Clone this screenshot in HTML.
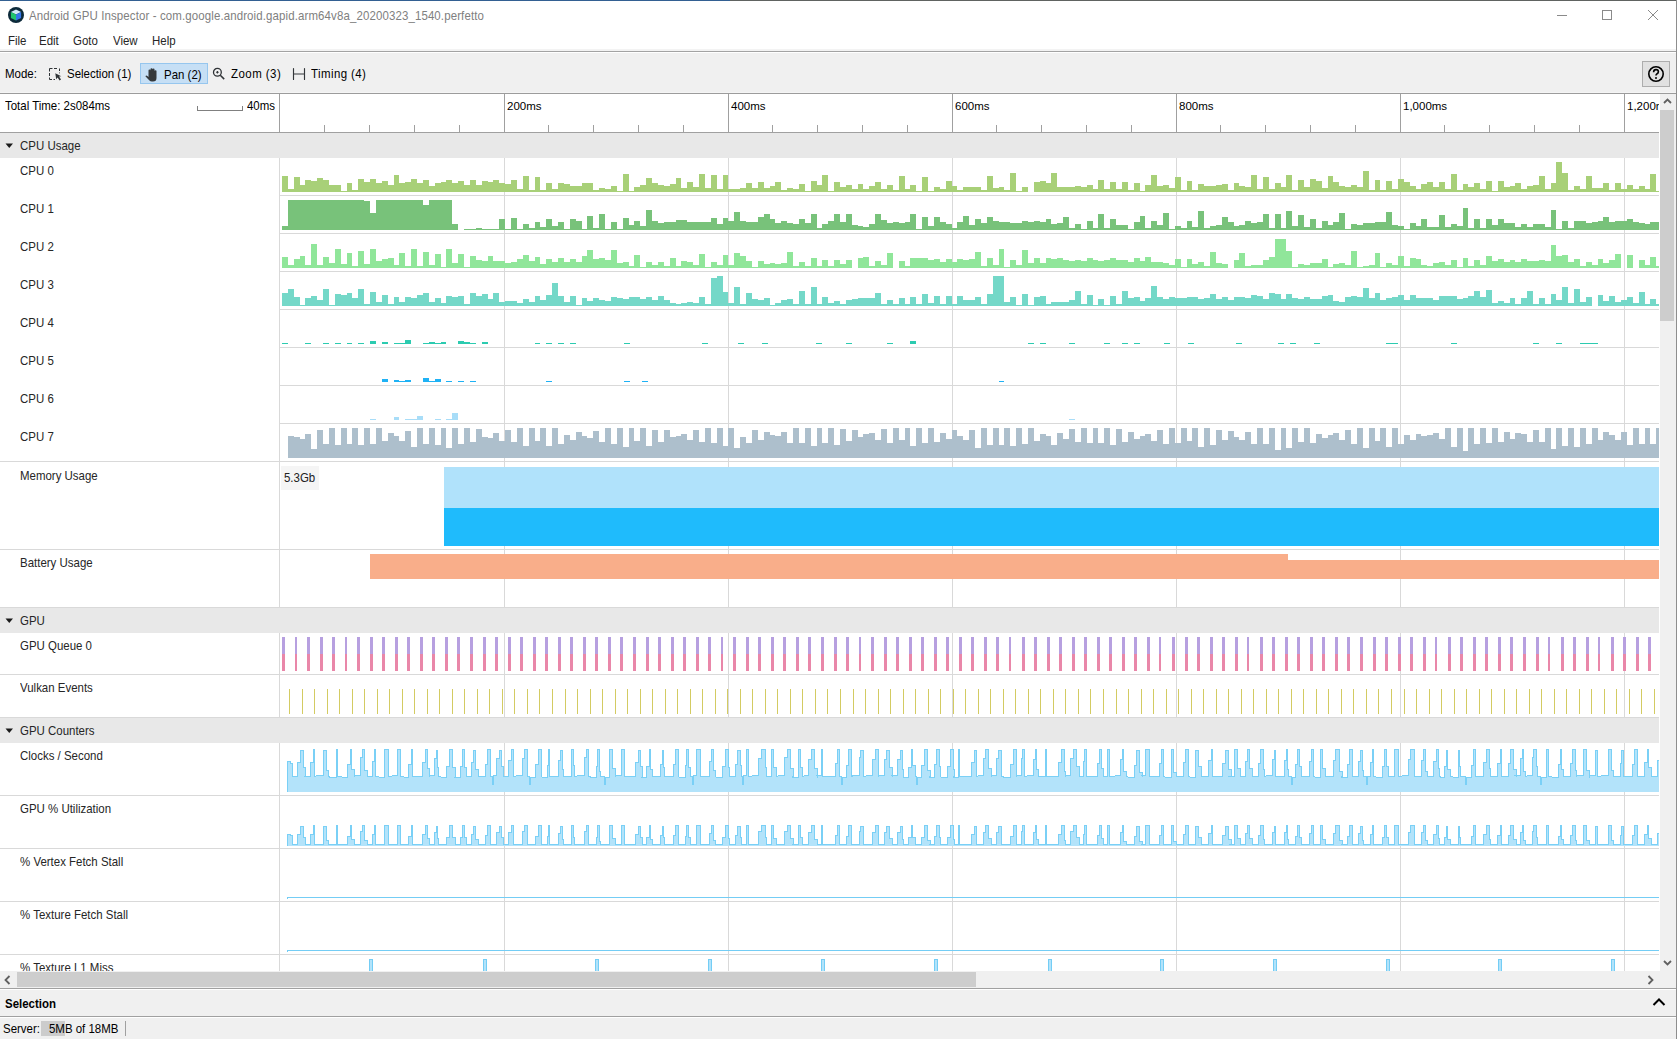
<!DOCTYPE html><html><head><meta charset="utf-8"><style>
html,body{margin:0;padding:0;width:1677px;height:1039px;overflow:hidden;background:#fff}
.t{position:absolute;white-space:pre;font-family:"Liberation Sans",sans-serif;line-height:normal}
</style></head><body><div style="position:absolute;left:0px;top:0px;width:730px;height:1px;background:#336092;"></div><div style="position:absolute;left:730px;top:0px;width:947px;height:1px;background:#606361;"></div><div style="position:absolute;left:1676px;top:0px;width:1px;height:1039px;background:#8e8e8e;"></div><svg style="position:absolute;left:7px;top:6px" width="18" height="18" viewBox="0 0 18 18">
<circle cx="9" cy="9" r="8" fill="#0d2a3a"/>
<path d="M9 3.6 L14.1 6 L9 8.4 L3.9 6 Z" fill="#cfe8f6"/>
<path d="M3.9 6 L9 8.4 L9 14.5 L3.9 12 Z" fill="#1fc56c"/>
<path d="M14.1 6 L9 8.4 L9 14.5 L14.1 12 Z" fill="#3576e8"/>
</svg><div class="t" style="left:29px;top:8.78px;font-size:12.4px;color:#808080;font-weight:400;transform:scaleX(0.925);transform-origin:0 0;letter-spacing:0.13px">Android GPU Inspector - com.google.android.gapid.arm64v8a_20200323_1540.perfetto</div><div style="position:absolute;left:1557px;top:15px;width:10px;height:1px;background:#8a8a8a;"></div><div style="position:absolute;left:1602px;top:10px;width:8px;height:8px;border:1px solid #8a8a8a"></div><svg style="position:absolute;left:1647px;top:9px" width="12" height="12" viewBox="0 0 12 12"><path d="M1 1 L11 11 M11 1 L1 11" stroke="#8a8a8a" stroke-width="1"/></svg><div class="t" style="left:8px;top:33.78px;font-size:12.4px;color:#262626;font-weight:400;transform:scaleX(0.925);transform-origin:0 0;">File</div><div class="t" style="left:39px;top:33.78px;font-size:12.4px;color:#262626;font-weight:400;transform:scaleX(0.925);transform-origin:0 0;">Edit</div><div class="t" style="left:73px;top:33.78px;font-size:12.4px;color:#262626;font-weight:400;transform:scaleX(0.925);transform-origin:0 0;">Goto</div><div class="t" style="left:113px;top:33.78px;font-size:12.4px;color:#262626;font-weight:400;transform:scaleX(0.925);transform-origin:0 0;">View</div><div class="t" style="left:152px;top:33.78px;font-size:12.4px;color:#262626;font-weight:400;transform:scaleX(0.925);transform-origin:0 0;">Help</div><div style="position:absolute;left:0px;top:49px;width:1676px;height:2px;background:#f3f3f3;"></div><div style="position:absolute;left:0px;top:51px;width:1676px;height:1px;background:#a3a3a3;"></div><div style="position:absolute;left:0px;top:52px;width:1676px;height:1px;background:#ffffff;"></div><div style="position:absolute;left:0px;top:53px;width:1676px;height:39px;background:#f0f0f0;"></div><div style="position:absolute;left:0px;top:92px;width:1676px;height:1px;background:#f5f5f5;"></div><div class="t" style="left:5px;top:66.78px;font-size:12.4px;color:#000;font-weight:400;transform:scaleX(0.925);transform-origin:0 0;">Mode:</div><svg style="position:absolute;left:44px;top:64px" width="24" height="20" viewBox="0 0 24 20">
<path d="M5.5 7.5 V4.5 H8.5 M10 4.5 H13 M15.5 4.5 V7 M15.5 8.5 V9.3 M5.5 9 V12 M5.5 13.5 V15.5 H8 M9.5 15.5 H11" fill="none" stroke="#2f3336" stroke-width="1"/>
<path d="M11.3 9.2 L12.2 15.3 L13.6 13.4 L15.6 16.4 L17 15.5 L15.1 12.6 L17.3 12.2 Z" fill="#2f3336"/>
</svg><div class="t" style="left:67px;top:66.78px;font-size:12.4px;color:#000;font-weight:400;transform:scaleX(0.925);transform-origin:0 0;">Selection (1)</div><div style="position:absolute;left:140px;top:63px;width:66px;height:19px;background:#c6dff5;border:1px solid #96c6ee"></div><svg style="position:absolute;left:144px;top:67px" width="16" height="16" viewBox="0 0 16 16">
<path d="M4.5 8.5 V3.5 Q4.5 2.6 5.5 2.6 Q6.5 2.6 6.5 3.5 V7.5 V2 Q6.5 1.2 7.5 1.2 Q8.5 1.2 8.5 2 V7.5 V2.3 Q8.5 1.6 9.5 1.6 Q10.5 1.6 10.5 2.3 V7.5 V4 Q10.5 3.3 11.5 3.3 Q12.5 3.3 12.5 4 V11 Q12.5 14.6 9 14.6 H8 Q6.2 14.6 5.2 13.3 L1.6 9.6 Q1.2 9 1.8 8.7 Q2.6 8.3 3.4 9 L4.5 10 Z" fill="#35393c"/>
</svg><div class="t" style="left:164px;top:67.78px;font-size:12.4px;color:#000;font-weight:400;transform:scaleX(0.925);transform-origin:0 0;">Pan (2)</div><svg style="position:absolute;left:212px;top:67px" width="14" height="14" viewBox="0 0 14 14">
<circle cx="5.4" cy="5.3" r="3.9" fill="none" stroke="#2f3336" stroke-width="1.3"/>
<path d="M8.3 8.2 L12.2 12.1" stroke="#2f3336" stroke-width="1.5"/>
<path d="M5.4 4 V6.6 M4.1 5.3 H6.7" stroke="#2f3336" stroke-width="1.1"/>
</svg><div class="t" style="left:231px;top:66.78px;font-size:12.4px;color:#000;font-weight:400;transform:scaleX(0.925);transform-origin:0 0;letter-spacing:0.5px">Zoom (3)</div><svg style="position:absolute;left:286px;top:62px" width="24" height="24" viewBox="0 0 24 24">
<path d="M7.5 6.6 V17.4 M18.5 6.6 V17.4 M7.5 12 H18.5" stroke="#33373a" stroke-width="1.15" stroke-linecap="round" fill="none"/>
</svg><div class="t" style="left:311px;top:66.78px;font-size:12.4px;color:#000;font-weight:400;transform:scaleX(0.925);transform-origin:0 0;letter-spacing:0.45px">Timing (4)</div><div style="position:absolute;left:1642px;top:61px;width:26px;height:24px;background:#e1e1e1;border:1px solid #adadad"></div><svg style="position:absolute;left:1647px;top:65px" width="18" height="18" viewBox="0 0 18 18">
<circle cx="9" cy="9" r="7.2" fill="none" stroke="#000" stroke-width="1.6"/>
<path d="M6.6 7.2 Q6.6 4.6 9 4.6 Q11.4 4.6 11.4 6.8 Q11.4 8.2 9.8 9 Q9 9.4 9 10.6" fill="none" stroke="#000" stroke-width="1.6"/>
<circle cx="9" cy="13" r="1" fill="#000"/>
</svg><div style="position:absolute;left:0px;top:93px;width:1676px;height:1px;background:#9c9c9c;"></div><div style="position:absolute;left:0px;top:94px;width:1659px;height:38px;background:#ffffff;"></div><div class="t" style="left:5px;top:98.78px;font-size:12.4px;color:#000;font-weight:400;transform:scaleX(0.925);transform-origin:0 0;">Total Time: 2s084ms</div><div style="position:absolute;left:197px;top:106px;width:44px;height:4px;border:1px solid #808080;border-top:none"></div><div class="t" style="left:247px;top:98.78px;font-size:12.4px;color:#000;font-weight:400;transform:scaleX(0.925);transform-origin:0 0;">40ms</div><div style="position:absolute;left:279px;top:94px;width:1px;height:38px;background:#a0a0a0;"></div><div style="position:absolute;left:504px;top:94px;width:1px;height:38px;background:#a0a0a0;"></div><div class="t" style="left:507px;top:100px;font-size:11.5px;width:200px;overflow:hidden">200ms</div><div style="position:absolute;left:728px;top:94px;width:1px;height:38px;background:#a0a0a0;"></div><div class="t" style="left:731px;top:100px;font-size:11.5px;width:200px;overflow:hidden">400ms</div><div style="position:absolute;left:952px;top:94px;width:1px;height:38px;background:#a0a0a0;"></div><div class="t" style="left:955px;top:100px;font-size:11.5px;width:200px;overflow:hidden">600ms</div><div style="position:absolute;left:1176px;top:94px;width:1px;height:38px;background:#a0a0a0;"></div><div class="t" style="left:1179px;top:100px;font-size:11.5px;width:200px;overflow:hidden">800ms</div><div style="position:absolute;left:1400px;top:94px;width:1px;height:38px;background:#a0a0a0;"></div><div class="t" style="left:1403px;top:100px;font-size:11.5px;width:200px;overflow:hidden">1,000ms</div><div style="position:absolute;left:1624px;top:94px;width:1px;height:38px;background:#a0a0a0;"></div><div class="t" style="left:1627px;top:100px;font-size:11.5px;width:32px;overflow:hidden">1,200ms</div><div style="position:absolute;left:324px;top:125px;width:1px;height:7px;background:#a0a0a0;"></div><div style="position:absolute;left:369px;top:125px;width:1px;height:7px;background:#a0a0a0;"></div><div style="position:absolute;left:414px;top:125px;width:1px;height:7px;background:#a0a0a0;"></div><div style="position:absolute;left:459px;top:125px;width:1px;height:7px;background:#a0a0a0;"></div><div style="position:absolute;left:548px;top:125px;width:1px;height:7px;background:#a0a0a0;"></div><div style="position:absolute;left:593px;top:125px;width:1px;height:7px;background:#a0a0a0;"></div><div style="position:absolute;left:638px;top:125px;width:1px;height:7px;background:#a0a0a0;"></div><div style="position:absolute;left:683px;top:125px;width:1px;height:7px;background:#a0a0a0;"></div><div style="position:absolute;left:772px;top:125px;width:1px;height:7px;background:#a0a0a0;"></div><div style="position:absolute;left:817px;top:125px;width:1px;height:7px;background:#a0a0a0;"></div><div style="position:absolute;left:862px;top:125px;width:1px;height:7px;background:#a0a0a0;"></div><div style="position:absolute;left:907px;top:125px;width:1px;height:7px;background:#a0a0a0;"></div><div style="position:absolute;left:996px;top:125px;width:1px;height:7px;background:#a0a0a0;"></div><div style="position:absolute;left:1041px;top:125px;width:1px;height:7px;background:#a0a0a0;"></div><div style="position:absolute;left:1086px;top:125px;width:1px;height:7px;background:#a0a0a0;"></div><div style="position:absolute;left:1131px;top:125px;width:1px;height:7px;background:#a0a0a0;"></div><div style="position:absolute;left:1220px;top:125px;width:1px;height:7px;background:#a0a0a0;"></div><div style="position:absolute;left:1265px;top:125px;width:1px;height:7px;background:#a0a0a0;"></div><div style="position:absolute;left:1310px;top:125px;width:1px;height:7px;background:#a0a0a0;"></div><div style="position:absolute;left:1355px;top:125px;width:1px;height:7px;background:#a0a0a0;"></div><div style="position:absolute;left:1444px;top:125px;width:1px;height:7px;background:#a0a0a0;"></div><div style="position:absolute;left:1489px;top:125px;width:1px;height:7px;background:#a0a0a0;"></div><div style="position:absolute;left:1534px;top:125px;width:1px;height:7px;background:#a0a0a0;"></div><div style="position:absolute;left:1579px;top:125px;width:1px;height:7px;background:#a0a0a0;"></div><div style="position:absolute;left:0px;top:132px;width:1659px;height:1px;background:#a0a0a0;"></div><div style="position:absolute;left:1660px;top:94px;width:16px;height:877px;background:#f0f0f0;"></div><div style="position:absolute;left:1660px;top:110px;width:14px;height:211px;background:#cdcdcd;"></div><svg style="position:absolute;left:1663px;top:97px" width="9" height="8" viewBox="0 0 9 8"><path d="M1 6 L4.5 2.5 L8 6" stroke="#606060" stroke-width="1.8" fill="none"/></svg><svg style="position:absolute;left:1663px;top:959px" width="9" height="8" viewBox="0 0 9 8"><path d="M1 2 L4.5 5.5 L8 2" stroke="#606060" stroke-width="1.8" fill="none"/></svg><div style="position:absolute;left:0px;top:133px;width:1659px;height:25px;background:#e8e8e8;"></div><svg style="position:absolute;left:5px;top:143px" width="9" height="6" viewBox="0 0 9 6"><path d="M0.5 0.5 H8 L4.25 5 Z" fill="#1a1a1a"/></svg><div class="t" style="left:19.7px;top:138.78px;font-size:12.4px;color:#262626;font-weight:400;transform:scaleX(0.925);transform-origin:0 0;">CPU Usage</div><div style="position:absolute;left:279px;top:158px;width:1px;height:813px;background:#d9d9d9;"></div><div style="position:absolute;left:504px;top:158px;width:1px;height:813px;background:#d9d9d9;"></div><div style="position:absolute;left:728px;top:158px;width:1px;height:813px;background:#d9d9d9;"></div><div style="position:absolute;left:952px;top:158px;width:1px;height:813px;background:#d9d9d9;"></div><div style="position:absolute;left:1176px;top:158px;width:1px;height:813px;background:#d9d9d9;"></div><div style="position:absolute;left:1400px;top:158px;width:1px;height:813px;background:#d9d9d9;"></div><div style="position:absolute;left:1624px;top:158px;width:1px;height:813px;background:#d9d9d9;"></div><div class="t" style="left:19.7px;top:163.78px;font-size:12.4px;color:#262626;font-weight:400;transform:scaleX(0.925);transform-origin:0 0;">CPU 0</div><div style="position:absolute;left:280px;top:195px;width:1379px;height:1px;background:#d9d9d9;"></div><div class="t" style="left:19.7px;top:201.78px;font-size:12.4px;color:#262626;font-weight:400;transform:scaleX(0.925);transform-origin:0 0;">CPU 1</div><div style="position:absolute;left:280px;top:233px;width:1379px;height:1px;background:#d9d9d9;"></div><div class="t" style="left:19.7px;top:239.78px;font-size:12.4px;color:#262626;font-weight:400;transform:scaleX(0.925);transform-origin:0 0;">CPU 2</div><div style="position:absolute;left:280px;top:271px;width:1379px;height:1px;background:#d9d9d9;"></div><div class="t" style="left:19.7px;top:277.78px;font-size:12.4px;color:#262626;font-weight:400;transform:scaleX(0.925);transform-origin:0 0;">CPU 3</div><div style="position:absolute;left:280px;top:309px;width:1379px;height:1px;background:#d9d9d9;"></div><div class="t" style="left:19.7px;top:315.78px;font-size:12.4px;color:#262626;font-weight:400;transform:scaleX(0.925);transform-origin:0 0;">CPU 4</div><div style="position:absolute;left:280px;top:347px;width:1379px;height:1px;background:#d9d9d9;"></div><div class="t" style="left:19.7px;top:353.78px;font-size:12.4px;color:#262626;font-weight:400;transform:scaleX(0.925);transform-origin:0 0;">CPU 5</div><div style="position:absolute;left:280px;top:385px;width:1379px;height:1px;background:#d9d9d9;"></div><div class="t" style="left:19.7px;top:391.78px;font-size:12.4px;color:#262626;font-weight:400;transform:scaleX(0.925);transform-origin:0 0;">CPU 6</div><div style="position:absolute;left:280px;top:423px;width:1379px;height:1px;background:#d9d9d9;"></div><div class="t" style="left:19.7px;top:429.78px;font-size:12.4px;color:#262626;font-weight:400;transform:scaleX(0.925);transform-origin:0 0;">CPU 7</div><div style="position:absolute;left:0px;top:461px;width:1659px;height:1px;background:#d9d9d9;"></div><div class="t" style="left:19.7px;top:468.78px;font-size:12.4px;color:#262626;font-weight:400;transform:scaleX(0.925);transform-origin:0 0;">Memory Usage</div><div style="position:absolute;left:281px;top:466px;width:38px;height:24px;background:#f5f5f5;"></div><div class="t" style="left:284px;top:470.78px;font-size:12.4px;color:#222;font-weight:400;transform:scaleX(0.925);transform-origin:0 0;">5.3Gb</div><div style="position:absolute;left:444px;top:467px;width:1215px;height:41px;background:#b0e2fb;"></div><div style="position:absolute;left:444px;top:508px;width:1215px;height:38px;background:#1fbbfc;"></div><div style="position:absolute;left:0px;top:549px;width:1659px;height:1px;background:#d9d9d9;"></div><div class="t" style="left:19.7px;top:555.78px;font-size:12.4px;color:#262626;font-weight:400;transform:scaleX(0.925);transform-origin:0 0;">Battery Usage</div><div style="position:absolute;left:370px;top:554px;width:918px;height:25px;background:#f9ae8a;"></div><div style="position:absolute;left:1288px;top:560px;width:371px;height:19px;background:#f9ae8a;"></div><div style="position:absolute;left:0px;top:607px;width:1659px;height:1px;background:#d9d9d9;"></div><div style="position:absolute;left:0px;top:608px;width:1659px;height:25px;background:#e8e8e8;"></div><svg style="position:absolute;left:5px;top:618px" width="9" height="6" viewBox="0 0 9 6"><path d="M0.5 0.5 H8 L4.25 5 Z" fill="#1a1a1a"/></svg><div class="t" style="left:19.7px;top:613.78px;font-size:12.4px;color:#262626;font-weight:400;transform:scaleX(0.925);transform-origin:0 0;">GPU</div><div class="t" style="left:19.7px;top:638.78px;font-size:12.4px;color:#262626;font-weight:400;transform:scaleX(0.925);transform-origin:0 0;">GPU Queue 0</div><div style="position:absolute;left:282px;top:637px;width:3px;height:17px;background:#b7a0e0;"></div><div style="position:absolute;left:282px;top:654px;width:3px;height:17px;background:#e987a9;"></div><div style="position:absolute;left:295px;top:637px;width:2px;height:17px;background:#b7a0e0;"></div><div style="position:absolute;left:295px;top:654px;width:2px;height:17px;background:#e987a9;"></div><div style="position:absolute;left:307px;top:637px;width:3px;height:17px;background:#b7a0e0;"></div><div style="position:absolute;left:307px;top:654px;width:3px;height:17px;background:#e987a9;"></div><div style="position:absolute;left:320px;top:637px;width:3px;height:17px;background:#b7a0e0;"></div><div style="position:absolute;left:320px;top:654px;width:3px;height:17px;background:#e987a9;"></div><div style="position:absolute;left:332px;top:637px;width:3px;height:17px;background:#b7a0e0;"></div><div style="position:absolute;left:332px;top:654px;width:3px;height:17px;background:#e987a9;"></div><div style="position:absolute;left:345px;top:637px;width:2px;height:17px;background:#b7a0e0;"></div><div style="position:absolute;left:345px;top:654px;width:2px;height:17px;background:#e987a9;"></div><div style="position:absolute;left:357px;top:637px;width:3px;height:17px;background:#b7a0e0;"></div><div style="position:absolute;left:357px;top:654px;width:3px;height:17px;background:#e987a9;"></div><div style="position:absolute;left:370px;top:637px;width:3px;height:17px;background:#b7a0e0;"></div><div style="position:absolute;left:370px;top:654px;width:3px;height:17px;background:#e987a9;"></div><div style="position:absolute;left:382px;top:637px;width:3px;height:17px;background:#b7a0e0;"></div><div style="position:absolute;left:382px;top:654px;width:3px;height:17px;background:#e987a9;"></div><div style="position:absolute;left:395px;top:637px;width:3px;height:17px;background:#b7a0e0;"></div><div style="position:absolute;left:395px;top:654px;width:3px;height:17px;background:#e987a9;"></div><div style="position:absolute;left:407px;top:637px;width:3px;height:17px;background:#b7a0e0;"></div><div style="position:absolute;left:407px;top:654px;width:3px;height:17px;background:#e987a9;"></div><div style="position:absolute;left:420px;top:637px;width:3px;height:17px;background:#b7a0e0;"></div><div style="position:absolute;left:420px;top:654px;width:3px;height:17px;background:#e987a9;"></div><div style="position:absolute;left:432px;top:637px;width:3px;height:17px;background:#b7a0e0;"></div><div style="position:absolute;left:432px;top:654px;width:3px;height:17px;background:#e987a9;"></div><div style="position:absolute;left:445px;top:637px;width:3px;height:17px;background:#b7a0e0;"></div><div style="position:absolute;left:445px;top:654px;width:3px;height:17px;background:#e987a9;"></div><div style="position:absolute;left:457px;top:637px;width:3px;height:17px;background:#b7a0e0;"></div><div style="position:absolute;left:457px;top:654px;width:3px;height:17px;background:#e987a9;"></div><div style="position:absolute;left:470px;top:637px;width:3px;height:17px;background:#b7a0e0;"></div><div style="position:absolute;left:470px;top:654px;width:3px;height:17px;background:#e987a9;"></div><div style="position:absolute;left:483px;top:637px;width:3px;height:17px;background:#b7a0e0;"></div><div style="position:absolute;left:483px;top:654px;width:3px;height:17px;background:#e987a9;"></div><div style="position:absolute;left:495px;top:637px;width:3px;height:17px;background:#b7a0e0;"></div><div style="position:absolute;left:495px;top:654px;width:3px;height:17px;background:#e987a9;"></div><div style="position:absolute;left:508px;top:637px;width:3px;height:17px;background:#b7a0e0;"></div><div style="position:absolute;left:508px;top:654px;width:3px;height:17px;background:#e987a9;"></div><div style="position:absolute;left:520px;top:637px;width:3px;height:17px;background:#b7a0e0;"></div><div style="position:absolute;left:520px;top:654px;width:3px;height:17px;background:#e987a9;"></div><div style="position:absolute;left:533px;top:637px;width:3px;height:17px;background:#b7a0e0;"></div><div style="position:absolute;left:533px;top:654px;width:3px;height:17px;background:#e987a9;"></div><div style="position:absolute;left:545px;top:637px;width:3px;height:17px;background:#b7a0e0;"></div><div style="position:absolute;left:545px;top:654px;width:3px;height:17px;background:#e987a9;"></div><div style="position:absolute;left:558px;top:637px;width:3px;height:17px;background:#b7a0e0;"></div><div style="position:absolute;left:558px;top:654px;width:3px;height:17px;background:#e987a9;"></div><div style="position:absolute;left:570px;top:637px;width:3px;height:17px;background:#b7a0e0;"></div><div style="position:absolute;left:570px;top:654px;width:3px;height:17px;background:#e987a9;"></div><div style="position:absolute;left:583px;top:637px;width:3px;height:17px;background:#b7a0e0;"></div><div style="position:absolute;left:583px;top:654px;width:3px;height:17px;background:#e987a9;"></div><div style="position:absolute;left:595px;top:637px;width:3px;height:17px;background:#b7a0e0;"></div><div style="position:absolute;left:595px;top:654px;width:3px;height:17px;background:#e987a9;"></div><div style="position:absolute;left:608px;top:637px;width:3px;height:17px;background:#b7a0e0;"></div><div style="position:absolute;left:608px;top:654px;width:3px;height:17px;background:#e987a9;"></div><div style="position:absolute;left:620px;top:637px;width:3px;height:17px;background:#b7a0e0;"></div><div style="position:absolute;left:620px;top:654px;width:3px;height:17px;background:#e987a9;"></div><div style="position:absolute;left:633px;top:637px;width:3px;height:17px;background:#b7a0e0;"></div><div style="position:absolute;left:633px;top:654px;width:3px;height:17px;background:#e987a9;"></div><div style="position:absolute;left:646px;top:637px;width:3px;height:17px;background:#b7a0e0;"></div><div style="position:absolute;left:646px;top:654px;width:3px;height:17px;background:#e987a9;"></div><div style="position:absolute;left:658px;top:637px;width:3px;height:17px;background:#b7a0e0;"></div><div style="position:absolute;left:658px;top:654px;width:3px;height:17px;background:#e987a9;"></div><div style="position:absolute;left:671px;top:637px;width:3px;height:17px;background:#b7a0e0;"></div><div style="position:absolute;left:671px;top:654px;width:3px;height:17px;background:#e987a9;"></div><div style="position:absolute;left:683px;top:637px;width:3px;height:17px;background:#b7a0e0;"></div><div style="position:absolute;left:683px;top:654px;width:3px;height:17px;background:#e987a9;"></div><div style="position:absolute;left:696px;top:637px;width:3px;height:17px;background:#b7a0e0;"></div><div style="position:absolute;left:696px;top:654px;width:3px;height:17px;background:#e987a9;"></div><div style="position:absolute;left:708px;top:637px;width:3px;height:17px;background:#b7a0e0;"></div><div style="position:absolute;left:708px;top:654px;width:3px;height:17px;background:#e987a9;"></div><div style="position:absolute;left:721px;top:637px;width:2px;height:17px;background:#b7a0e0;"></div><div style="position:absolute;left:721px;top:654px;width:2px;height:17px;background:#e987a9;"></div><div style="position:absolute;left:733px;top:637px;width:3px;height:17px;background:#b7a0e0;"></div><div style="position:absolute;left:733px;top:654px;width:3px;height:17px;background:#e987a9;"></div><div style="position:absolute;left:746px;top:637px;width:3px;height:17px;background:#b7a0e0;"></div><div style="position:absolute;left:746px;top:654px;width:3px;height:17px;background:#e987a9;"></div><div style="position:absolute;left:758px;top:637px;width:3px;height:17px;background:#b7a0e0;"></div><div style="position:absolute;left:758px;top:654px;width:3px;height:17px;background:#e987a9;"></div><div style="position:absolute;left:771px;top:637px;width:3px;height:17px;background:#b7a0e0;"></div><div style="position:absolute;left:771px;top:654px;width:3px;height:17px;background:#e987a9;"></div><div style="position:absolute;left:783px;top:637px;width:3px;height:17px;background:#b7a0e0;"></div><div style="position:absolute;left:783px;top:654px;width:3px;height:17px;background:#e987a9;"></div><div style="position:absolute;left:796px;top:637px;width:3px;height:17px;background:#b7a0e0;"></div><div style="position:absolute;left:796px;top:654px;width:3px;height:17px;background:#e987a9;"></div><div style="position:absolute;left:808px;top:637px;width:3px;height:17px;background:#b7a0e0;"></div><div style="position:absolute;left:808px;top:654px;width:3px;height:17px;background:#e987a9;"></div><div style="position:absolute;left:821px;top:637px;width:3px;height:17px;background:#b7a0e0;"></div><div style="position:absolute;left:821px;top:654px;width:3px;height:17px;background:#e987a9;"></div><div style="position:absolute;left:834px;top:637px;width:3px;height:17px;background:#b7a0e0;"></div><div style="position:absolute;left:834px;top:654px;width:3px;height:17px;background:#e987a9;"></div><div style="position:absolute;left:846px;top:637px;width:3px;height:17px;background:#b7a0e0;"></div><div style="position:absolute;left:846px;top:654px;width:3px;height:17px;background:#e987a9;"></div><div style="position:absolute;left:859px;top:637px;width:2px;height:17px;background:#b7a0e0;"></div><div style="position:absolute;left:859px;top:654px;width:2px;height:17px;background:#e987a9;"></div><div style="position:absolute;left:871px;top:637px;width:3px;height:17px;background:#b7a0e0;"></div><div style="position:absolute;left:871px;top:654px;width:3px;height:17px;background:#e987a9;"></div><div style="position:absolute;left:884px;top:637px;width:3px;height:17px;background:#b7a0e0;"></div><div style="position:absolute;left:884px;top:654px;width:3px;height:17px;background:#e987a9;"></div><div style="position:absolute;left:896px;top:637px;width:3px;height:17px;background:#b7a0e0;"></div><div style="position:absolute;left:896px;top:654px;width:3px;height:17px;background:#e987a9;"></div><div style="position:absolute;left:909px;top:637px;width:3px;height:17px;background:#b7a0e0;"></div><div style="position:absolute;left:909px;top:654px;width:3px;height:17px;background:#e987a9;"></div><div style="position:absolute;left:921px;top:637px;width:3px;height:17px;background:#b7a0e0;"></div><div style="position:absolute;left:921px;top:654px;width:3px;height:17px;background:#e987a9;"></div><div style="position:absolute;left:934px;top:637px;width:3px;height:17px;background:#b7a0e0;"></div><div style="position:absolute;left:934px;top:654px;width:3px;height:17px;background:#e987a9;"></div><div style="position:absolute;left:946px;top:637px;width:3px;height:17px;background:#b7a0e0;"></div><div style="position:absolute;left:946px;top:654px;width:3px;height:17px;background:#e987a9;"></div><div style="position:absolute;left:959px;top:637px;width:3px;height:17px;background:#b7a0e0;"></div><div style="position:absolute;left:959px;top:654px;width:3px;height:17px;background:#e987a9;"></div><div style="position:absolute;left:971px;top:637px;width:3px;height:17px;background:#b7a0e0;"></div><div style="position:absolute;left:971px;top:654px;width:3px;height:17px;background:#e987a9;"></div><div style="position:absolute;left:984px;top:637px;width:3px;height:17px;background:#b7a0e0;"></div><div style="position:absolute;left:984px;top:654px;width:3px;height:17px;background:#e987a9;"></div><div style="position:absolute;left:996px;top:637px;width:3px;height:17px;background:#b7a0e0;"></div><div style="position:absolute;left:996px;top:654px;width:3px;height:17px;background:#e987a9;"></div><div style="position:absolute;left:1009px;top:637px;width:2px;height:17px;background:#b7a0e0;"></div><div style="position:absolute;left:1009px;top:654px;width:2px;height:17px;background:#e987a9;"></div><div style="position:absolute;left:1022px;top:637px;width:3px;height:17px;background:#b7a0e0;"></div><div style="position:absolute;left:1022px;top:654px;width:3px;height:17px;background:#e987a9;"></div><div style="position:absolute;left:1034px;top:637px;width:3px;height:17px;background:#b7a0e0;"></div><div style="position:absolute;left:1034px;top:654px;width:3px;height:17px;background:#e987a9;"></div><div style="position:absolute;left:1047px;top:637px;width:3px;height:17px;background:#b7a0e0;"></div><div style="position:absolute;left:1047px;top:654px;width:3px;height:17px;background:#e987a9;"></div><div style="position:absolute;left:1059px;top:637px;width:3px;height:17px;background:#b7a0e0;"></div><div style="position:absolute;left:1059px;top:654px;width:3px;height:17px;background:#e987a9;"></div><div style="position:absolute;left:1072px;top:637px;width:3px;height:17px;background:#b7a0e0;"></div><div style="position:absolute;left:1072px;top:654px;width:3px;height:17px;background:#e987a9;"></div><div style="position:absolute;left:1084px;top:637px;width:3px;height:17px;background:#b7a0e0;"></div><div style="position:absolute;left:1084px;top:654px;width:3px;height:17px;background:#e987a9;"></div><div style="position:absolute;left:1097px;top:637px;width:3px;height:17px;background:#b7a0e0;"></div><div style="position:absolute;left:1097px;top:654px;width:3px;height:17px;background:#e987a9;"></div><div style="position:absolute;left:1109px;top:637px;width:3px;height:17px;background:#b7a0e0;"></div><div style="position:absolute;left:1109px;top:654px;width:3px;height:17px;background:#e987a9;"></div><div style="position:absolute;left:1122px;top:637px;width:3px;height:17px;background:#b7a0e0;"></div><div style="position:absolute;left:1122px;top:654px;width:3px;height:17px;background:#e987a9;"></div><div style="position:absolute;left:1134px;top:637px;width:3px;height:17px;background:#b7a0e0;"></div><div style="position:absolute;left:1134px;top:654px;width:3px;height:17px;background:#e987a9;"></div><div style="position:absolute;left:1147px;top:637px;width:3px;height:17px;background:#b7a0e0;"></div><div style="position:absolute;left:1147px;top:654px;width:3px;height:17px;background:#e987a9;"></div><div style="position:absolute;left:1159px;top:637px;width:2px;height:17px;background:#b7a0e0;"></div><div style="position:absolute;left:1159px;top:654px;width:2px;height:17px;background:#e987a9;"></div><div style="position:absolute;left:1172px;top:637px;width:3px;height:17px;background:#b7a0e0;"></div><div style="position:absolute;left:1172px;top:654px;width:3px;height:17px;background:#e987a9;"></div><div style="position:absolute;left:1185px;top:637px;width:3px;height:17px;background:#b7a0e0;"></div><div style="position:absolute;left:1185px;top:654px;width:3px;height:17px;background:#e987a9;"></div><div style="position:absolute;left:1197px;top:637px;width:3px;height:17px;background:#b7a0e0;"></div><div style="position:absolute;left:1197px;top:654px;width:3px;height:17px;background:#e987a9;"></div><div style="position:absolute;left:1210px;top:637px;width:3px;height:17px;background:#b7a0e0;"></div><div style="position:absolute;left:1210px;top:654px;width:3px;height:17px;background:#e987a9;"></div><div style="position:absolute;left:1222px;top:637px;width:3px;height:17px;background:#b7a0e0;"></div><div style="position:absolute;left:1222px;top:654px;width:3px;height:17px;background:#e987a9;"></div><div style="position:absolute;left:1235px;top:637px;width:3px;height:17px;background:#b7a0e0;"></div><div style="position:absolute;left:1235px;top:654px;width:3px;height:17px;background:#e987a9;"></div><div style="position:absolute;left:1247px;top:637px;width:2px;height:17px;background:#b7a0e0;"></div><div style="position:absolute;left:1247px;top:654px;width:2px;height:17px;background:#e987a9;"></div><div style="position:absolute;left:1260px;top:637px;width:3px;height:17px;background:#b7a0e0;"></div><div style="position:absolute;left:1260px;top:654px;width:3px;height:17px;background:#e987a9;"></div><div style="position:absolute;left:1272px;top:637px;width:3px;height:17px;background:#b7a0e0;"></div><div style="position:absolute;left:1272px;top:654px;width:3px;height:17px;background:#e987a9;"></div><div style="position:absolute;left:1285px;top:637px;width:3px;height:17px;background:#b7a0e0;"></div><div style="position:absolute;left:1285px;top:654px;width:3px;height:17px;background:#e987a9;"></div><div style="position:absolute;left:1297px;top:637px;width:3px;height:17px;background:#b7a0e0;"></div><div style="position:absolute;left:1297px;top:654px;width:3px;height:17px;background:#e987a9;"></div><div style="position:absolute;left:1310px;top:637px;width:3px;height:17px;background:#b7a0e0;"></div><div style="position:absolute;left:1310px;top:654px;width:3px;height:17px;background:#e987a9;"></div><div style="position:absolute;left:1322px;top:637px;width:3px;height:17px;background:#b7a0e0;"></div><div style="position:absolute;left:1322px;top:654px;width:3px;height:17px;background:#e987a9;"></div><div style="position:absolute;left:1335px;top:637px;width:3px;height:17px;background:#b7a0e0;"></div><div style="position:absolute;left:1335px;top:654px;width:3px;height:17px;background:#e987a9;"></div><div style="position:absolute;left:1347px;top:637px;width:3px;height:17px;background:#b7a0e0;"></div><div style="position:absolute;left:1347px;top:654px;width:3px;height:17px;background:#e987a9;"></div><div style="position:absolute;left:1360px;top:637px;width:3px;height:17px;background:#b7a0e0;"></div><div style="position:absolute;left:1360px;top:654px;width:3px;height:17px;background:#e987a9;"></div><div style="position:absolute;left:1373px;top:637px;width:3px;height:17px;background:#b7a0e0;"></div><div style="position:absolute;left:1373px;top:654px;width:3px;height:17px;background:#e987a9;"></div><div style="position:absolute;left:1385px;top:637px;width:3px;height:17px;background:#b7a0e0;"></div><div style="position:absolute;left:1385px;top:654px;width:3px;height:17px;background:#e987a9;"></div><div style="position:absolute;left:1398px;top:637px;width:3px;height:17px;background:#b7a0e0;"></div><div style="position:absolute;left:1398px;top:654px;width:3px;height:17px;background:#e987a9;"></div><div style="position:absolute;left:1410px;top:637px;width:3px;height:17px;background:#b7a0e0;"></div><div style="position:absolute;left:1410px;top:654px;width:3px;height:17px;background:#e987a9;"></div><div style="position:absolute;left:1423px;top:637px;width:3px;height:17px;background:#b7a0e0;"></div><div style="position:absolute;left:1423px;top:654px;width:3px;height:17px;background:#e987a9;"></div><div style="position:absolute;left:1435px;top:637px;width:2px;height:17px;background:#b7a0e0;"></div><div style="position:absolute;left:1435px;top:654px;width:2px;height:17px;background:#e987a9;"></div><div style="position:absolute;left:1448px;top:637px;width:3px;height:17px;background:#b7a0e0;"></div><div style="position:absolute;left:1448px;top:654px;width:3px;height:17px;background:#e987a9;"></div><div style="position:absolute;left:1460px;top:637px;width:3px;height:17px;background:#b7a0e0;"></div><div style="position:absolute;left:1460px;top:654px;width:3px;height:17px;background:#e987a9;"></div><div style="position:absolute;left:1473px;top:637px;width:3px;height:17px;background:#b7a0e0;"></div><div style="position:absolute;left:1473px;top:654px;width:3px;height:17px;background:#e987a9;"></div><div style="position:absolute;left:1485px;top:637px;width:3px;height:17px;background:#b7a0e0;"></div><div style="position:absolute;left:1485px;top:654px;width:3px;height:17px;background:#e987a9;"></div><div style="position:absolute;left:1498px;top:637px;width:3px;height:17px;background:#b7a0e0;"></div><div style="position:absolute;left:1498px;top:654px;width:3px;height:17px;background:#e987a9;"></div><div style="position:absolute;left:1510px;top:637px;width:3px;height:17px;background:#b7a0e0;"></div><div style="position:absolute;left:1510px;top:654px;width:3px;height:17px;background:#e987a9;"></div><div style="position:absolute;left:1523px;top:637px;width:3px;height:17px;background:#b7a0e0;"></div><div style="position:absolute;left:1523px;top:654px;width:3px;height:17px;background:#e987a9;"></div><div style="position:absolute;left:1536px;top:637px;width:3px;height:17px;background:#b7a0e0;"></div><div style="position:absolute;left:1536px;top:654px;width:3px;height:17px;background:#e987a9;"></div><div style="position:absolute;left:1548px;top:637px;width:2px;height:17px;background:#b7a0e0;"></div><div style="position:absolute;left:1548px;top:654px;width:2px;height:17px;background:#e987a9;"></div><div style="position:absolute;left:1561px;top:637px;width:3px;height:17px;background:#b7a0e0;"></div><div style="position:absolute;left:1561px;top:654px;width:3px;height:17px;background:#e987a9;"></div><div style="position:absolute;left:1573px;top:637px;width:3px;height:17px;background:#b7a0e0;"></div><div style="position:absolute;left:1573px;top:654px;width:3px;height:17px;background:#e987a9;"></div><div style="position:absolute;left:1586px;top:637px;width:3px;height:17px;background:#b7a0e0;"></div><div style="position:absolute;left:1586px;top:654px;width:3px;height:17px;background:#e987a9;"></div><div style="position:absolute;left:1598px;top:637px;width:2px;height:17px;background:#b7a0e0;"></div><div style="position:absolute;left:1598px;top:654px;width:2px;height:17px;background:#e987a9;"></div><div style="position:absolute;left:1611px;top:637px;width:3px;height:17px;background:#b7a0e0;"></div><div style="position:absolute;left:1611px;top:654px;width:3px;height:17px;background:#e987a9;"></div><div style="position:absolute;left:1623px;top:637px;width:3px;height:17px;background:#b7a0e0;"></div><div style="position:absolute;left:1623px;top:654px;width:3px;height:17px;background:#e987a9;"></div><div style="position:absolute;left:1636px;top:637px;width:3px;height:17px;background:#b7a0e0;"></div><div style="position:absolute;left:1636px;top:654px;width:3px;height:17px;background:#e987a9;"></div><div style="position:absolute;left:1648px;top:637px;width:3px;height:17px;background:#b7a0e0;"></div><div style="position:absolute;left:1648px;top:654px;width:3px;height:17px;background:#e987a9;"></div><div style="position:absolute;left:0px;top:674px;width:1659px;height:1px;background:#d9d9d9;"></div><div class="t" style="left:19.7px;top:680.78px;font-size:12.4px;color:#262626;font-weight:400;transform:scaleX(0.925);transform-origin:0 0;">Vulkan Events</div><div style="position:absolute;left:289px;top:689px;width:1px;height:25px;background:#d3cb62;"></div><div style="position:absolute;left:302px;top:689px;width:1px;height:25px;background:#d3cb62;"></div><div style="position:absolute;left:314px;top:689px;width:1px;height:25px;background:#d3cb62;"></div><div style="position:absolute;left:327px;top:689px;width:1px;height:25px;background:#d3cb62;"></div><div style="position:absolute;left:339px;top:689px;width:1px;height:25px;background:#d3cb62;"></div><div style="position:absolute;left:352px;top:689px;width:1px;height:25px;background:#d3cb62;"></div><div style="position:absolute;left:364px;top:689px;width:1px;height:25px;background:#d3cb62;"></div><div style="position:absolute;left:377px;top:689px;width:1px;height:25px;background:#d3cb62;"></div><div style="position:absolute;left:389px;top:689px;width:1px;height:25px;background:#d3cb62;"></div><div style="position:absolute;left:402px;top:689px;width:1px;height:25px;background:#d3cb62;"></div><div style="position:absolute;left:414px;top:689px;width:1px;height:25px;background:#d3cb62;"></div><div style="position:absolute;left:427px;top:689px;width:1px;height:25px;background:#d3cb62;"></div><div style="position:absolute;left:439px;top:689px;width:1px;height:25px;background:#d3cb62;"></div><div style="position:absolute;left:452px;top:689px;width:1px;height:25px;background:#d3cb62;"></div><div style="position:absolute;left:464px;top:689px;width:1px;height:25px;background:#d3cb62;"></div><div style="position:absolute;left:477px;top:689px;width:1px;height:25px;background:#d3cb62;"></div><div style="position:absolute;left:489px;top:689px;width:1px;height:25px;background:#d3cb62;"></div><div style="position:absolute;left:502px;top:689px;width:1px;height:25px;background:#d3cb62;"></div><div style="position:absolute;left:514px;top:689px;width:1px;height:25px;background:#d3cb62;"></div><div style="position:absolute;left:527px;top:689px;width:1px;height:25px;background:#d3cb62;"></div><div style="position:absolute;left:539px;top:689px;width:1px;height:25px;background:#d3cb62;"></div><div style="position:absolute;left:552px;top:689px;width:1px;height:25px;background:#d3cb62;"></div><div style="position:absolute;left:565px;top:689px;width:1px;height:25px;background:#d3cb62;"></div><div style="position:absolute;left:577px;top:689px;width:1px;height:25px;background:#d3cb62;"></div><div style="position:absolute;left:590px;top:689px;width:1px;height:25px;background:#d3cb62;"></div><div style="position:absolute;left:602px;top:689px;width:1px;height:25px;background:#d3cb62;"></div><div style="position:absolute;left:615px;top:689px;width:1px;height:25px;background:#d3cb62;"></div><div style="position:absolute;left:627px;top:689px;width:1px;height:25px;background:#d3cb62;"></div><div style="position:absolute;left:640px;top:689px;width:1px;height:25px;background:#d3cb62;"></div><div style="position:absolute;left:652px;top:689px;width:1px;height:25px;background:#d3cb62;"></div><div style="position:absolute;left:665px;top:689px;width:1px;height:25px;background:#d3cb62;"></div><div style="position:absolute;left:677px;top:689px;width:1px;height:25px;background:#d3cb62;"></div><div style="position:absolute;left:690px;top:689px;width:1px;height:25px;background:#d3cb62;"></div><div style="position:absolute;left:702px;top:689px;width:1px;height:25px;background:#d3cb62;"></div><div style="position:absolute;left:715px;top:689px;width:1px;height:25px;background:#d3cb62;"></div><div style="position:absolute;left:727px;top:689px;width:1px;height:25px;background:#d3cb62;"></div><div style="position:absolute;left:740px;top:689px;width:1px;height:25px;background:#d3cb62;"></div><div style="position:absolute;left:752px;top:689px;width:1px;height:25px;background:#d3cb62;"></div><div style="position:absolute;left:765px;top:689px;width:1px;height:25px;background:#d3cb62;"></div><div style="position:absolute;left:777px;top:689px;width:1px;height:25px;background:#d3cb62;"></div><div style="position:absolute;left:790px;top:689px;width:1px;height:25px;background:#d3cb62;"></div><div style="position:absolute;left:802px;top:689px;width:1px;height:25px;background:#d3cb62;"></div><div style="position:absolute;left:815px;top:689px;width:1px;height:25px;background:#d3cb62;"></div><div style="position:absolute;left:827px;top:689px;width:1px;height:25px;background:#d3cb62;"></div><div style="position:absolute;left:840px;top:689px;width:1px;height:25px;background:#d3cb62;"></div><div style="position:absolute;left:853px;top:689px;width:1px;height:25px;background:#d3cb62;"></div><div style="position:absolute;left:865px;top:689px;width:1px;height:25px;background:#d3cb62;"></div><div style="position:absolute;left:878px;top:689px;width:1px;height:25px;background:#d3cb62;"></div><div style="position:absolute;left:890px;top:689px;width:1px;height:25px;background:#d3cb62;"></div><div style="position:absolute;left:903px;top:689px;width:1px;height:25px;background:#d3cb62;"></div><div style="position:absolute;left:915px;top:689px;width:1px;height:25px;background:#d3cb62;"></div><div style="position:absolute;left:928px;top:689px;width:1px;height:25px;background:#d3cb62;"></div><div style="position:absolute;left:940px;top:689px;width:1px;height:25px;background:#d3cb62;"></div><div style="position:absolute;left:953px;top:689px;width:1px;height:25px;background:#d3cb62;"></div><div style="position:absolute;left:965px;top:689px;width:1px;height:25px;background:#d3cb62;"></div><div style="position:absolute;left:978px;top:689px;width:1px;height:25px;background:#d3cb62;"></div><div style="position:absolute;left:990px;top:689px;width:1px;height:25px;background:#d3cb62;"></div><div style="position:absolute;left:1003px;top:689px;width:1px;height:25px;background:#d3cb62;"></div><div style="position:absolute;left:1015px;top:689px;width:1px;height:25px;background:#d3cb62;"></div><div style="position:absolute;left:1028px;top:689px;width:1px;height:25px;background:#d3cb62;"></div><div style="position:absolute;left:1040px;top:689px;width:1px;height:25px;background:#d3cb62;"></div><div style="position:absolute;left:1053px;top:689px;width:1px;height:25px;background:#d3cb62;"></div><div style="position:absolute;left:1065px;top:689px;width:1px;height:25px;background:#d3cb62;"></div><div style="position:absolute;left:1078px;top:689px;width:1px;height:25px;background:#d3cb62;"></div><div style="position:absolute;left:1090px;top:689px;width:1px;height:25px;background:#d3cb62;"></div><div style="position:absolute;left:1103px;top:689px;width:1px;height:25px;background:#d3cb62;"></div><div style="position:absolute;left:1116px;top:689px;width:1px;height:25px;background:#d3cb62;"></div><div style="position:absolute;left:1128px;top:689px;width:1px;height:25px;background:#d3cb62;"></div><div style="position:absolute;left:1141px;top:689px;width:1px;height:25px;background:#d3cb62;"></div><div style="position:absolute;left:1153px;top:689px;width:1px;height:25px;background:#d3cb62;"></div><div style="position:absolute;left:1166px;top:689px;width:1px;height:25px;background:#d3cb62;"></div><div style="position:absolute;left:1178px;top:689px;width:1px;height:25px;background:#d3cb62;"></div><div style="position:absolute;left:1191px;top:689px;width:1px;height:25px;background:#d3cb62;"></div><div style="position:absolute;left:1203px;top:689px;width:1px;height:25px;background:#d3cb62;"></div><div style="position:absolute;left:1216px;top:689px;width:1px;height:25px;background:#d3cb62;"></div><div style="position:absolute;left:1228px;top:689px;width:1px;height:25px;background:#d3cb62;"></div><div style="position:absolute;left:1241px;top:689px;width:1px;height:25px;background:#d3cb62;"></div><div style="position:absolute;left:1253px;top:689px;width:1px;height:25px;background:#d3cb62;"></div><div style="position:absolute;left:1266px;top:689px;width:1px;height:25px;background:#d3cb62;"></div><div style="position:absolute;left:1278px;top:689px;width:1px;height:25px;background:#d3cb62;"></div><div style="position:absolute;left:1291px;top:689px;width:1px;height:25px;background:#d3cb62;"></div><div style="position:absolute;left:1303px;top:689px;width:1px;height:25px;background:#d3cb62;"></div><div style="position:absolute;left:1316px;top:689px;width:1px;height:25px;background:#d3cb62;"></div><div style="position:absolute;left:1328px;top:689px;width:1px;height:25px;background:#d3cb62;"></div><div style="position:absolute;left:1341px;top:689px;width:1px;height:25px;background:#d3cb62;"></div><div style="position:absolute;left:1353px;top:689px;width:1px;height:25px;background:#d3cb62;"></div><div style="position:absolute;left:1366px;top:689px;width:1px;height:25px;background:#d3cb62;"></div><div style="position:absolute;left:1378px;top:689px;width:1px;height:25px;background:#d3cb62;"></div><div style="position:absolute;left:1391px;top:689px;width:1px;height:25px;background:#d3cb62;"></div><div style="position:absolute;left:1404px;top:689px;width:1px;height:25px;background:#d3cb62;"></div><div style="position:absolute;left:1416px;top:689px;width:1px;height:25px;background:#d3cb62;"></div><div style="position:absolute;left:1429px;top:689px;width:1px;height:25px;background:#d3cb62;"></div><div style="position:absolute;left:1441px;top:689px;width:1px;height:25px;background:#d3cb62;"></div><div style="position:absolute;left:1454px;top:689px;width:1px;height:25px;background:#d3cb62;"></div><div style="position:absolute;left:1466px;top:689px;width:1px;height:25px;background:#d3cb62;"></div><div style="position:absolute;left:1479px;top:689px;width:1px;height:25px;background:#d3cb62;"></div><div style="position:absolute;left:1491px;top:689px;width:1px;height:25px;background:#d3cb62;"></div><div style="position:absolute;left:1504px;top:689px;width:1px;height:25px;background:#d3cb62;"></div><div style="position:absolute;left:1516px;top:689px;width:1px;height:25px;background:#d3cb62;"></div><div style="position:absolute;left:1529px;top:689px;width:1px;height:25px;background:#d3cb62;"></div><div style="position:absolute;left:1541px;top:689px;width:1px;height:25px;background:#d3cb62;"></div><div style="position:absolute;left:1554px;top:689px;width:1px;height:25px;background:#d3cb62;"></div><div style="position:absolute;left:1566px;top:689px;width:1px;height:25px;background:#d3cb62;"></div><div style="position:absolute;left:1579px;top:689px;width:1px;height:25px;background:#d3cb62;"></div><div style="position:absolute;left:1591px;top:689px;width:1px;height:25px;background:#d3cb62;"></div><div style="position:absolute;left:1604px;top:689px;width:1px;height:25px;background:#d3cb62;"></div><div style="position:absolute;left:1616px;top:689px;width:1px;height:25px;background:#d3cb62;"></div><div style="position:absolute;left:1629px;top:689px;width:1px;height:25px;background:#d3cb62;"></div><div style="position:absolute;left:1641px;top:689px;width:1px;height:25px;background:#d3cb62;"></div><div style="position:absolute;left:1654px;top:689px;width:1px;height:25px;background:#d3cb62;"></div><div style="position:absolute;left:0px;top:717px;width:1659px;height:1px;background:#d9d9d9;"></div><div style="position:absolute;left:0px;top:718px;width:1659px;height:25px;background:#e8e8e8;"></div><svg style="position:absolute;left:5px;top:728px" width="9" height="6" viewBox="0 0 9 6"><path d="M0.5 0.5 H8 L4.25 5 Z" fill="#1a1a1a"/></svg><div class="t" style="left:19.7px;top:723.78px;font-size:12.4px;color:#262626;font-weight:400;transform:scaleX(0.925);transform-origin:0 0;">GPU Counters</div><div class="t" style="left:19.7px;top:748.78px;font-size:12.4px;color:#262626;font-weight:400;transform:scaleX(0.925);transform-origin:0 0;">Clocks / Second</div><div style="position:absolute;left:0px;top:795px;width:1659px;height:1px;background:#d9d9d9;"></div><div class="t" style="left:19.7px;top:801.78px;font-size:12.4px;color:#262626;font-weight:400;transform:scaleX(0.925);transform-origin:0 0;">GPU % Utilization</div><div style="position:absolute;left:0px;top:848px;width:1659px;height:1px;background:#d9d9d9;"></div><div class="t" style="left:19.7px;top:854.78px;font-size:12.4px;color:#262626;font-weight:400;transform:scaleX(0.925);transform-origin:0 0;">% Vertex Fetch Stall</div><div style="position:absolute;left:0px;top:901px;width:1659px;height:1px;background:#d9d9d9;"></div><div class="t" style="left:19.7px;top:907.78px;font-size:12.4px;color:#262626;font-weight:400;transform:scaleX(0.925);transform-origin:0 0;">% Texture Fetch Stall</div><div style="position:absolute;left:0px;top:954px;width:1659px;height:1px;background:#d9d9d9;"></div><div class="t" style="left:19.7px;top:960.78px;font-size:12.4px;color:#262626;font-weight:400;transform:scaleX(0.925);transform-origin:0 0;">% Texture L1 Miss</div><svg style="position:absolute;left:0;top:0;overflow:hidden" width="1659" height="971" viewBox="0 0 1659 971"><defs><clipPath id="cc"><rect x="280" y="133" width="1379" height="838"/></clipPath></defs><g clip-path="url(#cc)" shape-rendering="crispEdges"><path d="M282.00 192 V176.20 H287.87 V192 Z M287.87 192 V189.00 H293.74 V192 Z M293.74 192 V177.30 H299.62 V192 Z M299.62 192 V185.20 H305.49 V192 Z M305.49 192 V180.20 H311.36 V192 Z M311.36 192 V181.20 H317.23 V192 Z M317.23 192 V178.30 H323.11 V192 Z M323.11 192 V180.20 H328.98 V192 Z M328.98 192 V185.20 H334.85 V192 Z M334.85 192 V185.20 H340.72 V192 Z M340.72 192 V191.20 H346.60 V192 Z M346.60 192 V183.20 H352.47 V192 Z M352.47 192 V190.20 H358.34 V192 Z M358.34 192 V179.20 H364.21 V192 Z M364.21 192 V182.20 H370.09 V192 Z M370.09 192 V179.20 H375.96 V192 Z M375.96 192 V183.20 H381.83 V192 Z M381.83 192 V181.20 H387.70 V192 Z M387.70 192 V185.20 H393.57 V192 Z M393.57 192 V175.20 H399.45 V192 Z M399.45 192 V183.20 H405.32 V192 Z M405.32 192 V182.20 H411.19 V192 Z M411.19 192 V179.20 H417.06 V192 Z M417.06 192 V183.20 H422.94 V192 Z M422.94 192 V180.20 H428.81 V192 Z M428.81 192 V186.20 H434.68 V192 Z M434.68 192 V183.20 H440.55 V192 Z M440.55 192 V182.20 H446.43 V192 Z M446.43 192 V180.20 H452.30 V192 Z M452.30 192 V183.20 H458.17 V192 Z M458.17 192 V181.20 H464.04 V192 Z M464.04 192 V185.20 H469.91 V192 Z M469.91 192 V180.20 H475.79 V192 Z M475.79 192 V185.20 H481.66 V192 Z M481.66 192 V181.20 H487.53 V192 Z M487.53 192 V182.20 H493.40 V192 Z M493.40 192 V180.20 H499.28 V192 Z M499.28 192 V183.20 H505.15 V192 Z M505.15 192 V184.20 H511.02 V192 Z M511.02 192 V180.20 H516.89 V192 Z M516.89 192 V189.00 H522.77 V192 Z M522.77 192 V176.20 H528.64 V192 Z M528.64 192 V190.20 H534.51 V192 Z M534.51 192 V177.30 H540.38 V192 Z M540.38 192 V190.20 H546.26 V192 Z M546.26 192 V183.20 H552.13 V192 Z M552.13 192 V189.00 H558.00 V192 Z M558.00 192 V183.20 H563.88 V192 Z M563.88 192 V184.20 H569.75 V192 Z M569.75 192 V186.20 H575.62 V192 Z M575.62 192 V186.20 H581.50 V192 Z M581.50 192 V183.20 H587.38 V192 Z M587.38 192 V183.20 H593.25 V192 Z M593.25 192 V190.20 H599.12 V192 Z M599.12 192 V188.20 H605.00 V192 Z M605.00 192 V189.20 H610.88 V192 Z M610.88 192 V186.20 H616.75 V192 Z M616.75 192 V191.20 H622.62 V192 Z M622.62 192 V174.20 H628.50 V192 Z M628.50 192 V191.20 H634.38 V192 Z M634.38 192 V187.20 H640.25 V192 Z M640.25 192 V185.20 H646.12 V192 Z M646.12 192 V178.20 H652.00 V192 Z M652.00 192 V183.20 H657.88 V192 Z M657.88 192 V185.20 H663.75 V192 Z M663.75 192 V186.20 H669.62 V192 Z M669.62 192 V184.20 H675.50 V192 Z M675.50 192 V178.20 H681.38 V192 Z M681.38 192 V188.20 H687.25 V192 Z M687.25 192 V182.20 H693.12 V192 Z M693.12 192 V187.20 H699.00 V192 Z M699.00 192 V174.20 H704.88 V192 Z M704.88 192 V188.20 H710.75 V192 Z M710.75 192 V175.20 H716.62 V192 Z M716.62 192 V189.20 H722.50 V192 Z M722.50 192 V175.20 H728.38 V192 Z M728.38 192 V189.20 H734.25 V192 Z M734.25 192 V189.20 H740.12 V192 Z M740.12 192 V188.20 H746.00 V192 Z M746.00 192 V183.20 H751.88 V192 Z M751.88 192 V188.20 H757.75 V192 Z M757.75 192 V182.20 H763.62 V192 Z M763.62 192 V188.20 H769.50 V192 Z M769.50 192 V186.20 H775.38 V192 Z M775.38 192 V182.20 H781.25 V192 Z M781.25 192 V190.20 H787.12 V192 Z M787.12 192 V188.20 H793.00 V192 Z M793.00 192 V189.20 H798.88 V192 Z M798.88 192 V184.20 H804.75 V192 Z M804.75 192 V191.20 H810.62 V192 Z M810.62 192 V181.20 H816.50 V192 Z M816.50 192 V185.20 H822.38 V192 Z M822.38 192 V175.20 H828.25 V192 Z M828.25 192 V191.20 H834.12 V192 Z M834.12 192 V182.20 H840.00 V192 Z M840.00 192 V187.20 H845.87 V192 Z M845.87 192 V185.20 H851.74 V192 Z M851.74 192 V189.20 H857.62 V192 Z M857.62 192 V184.20 H863.49 V192 Z M863.49 192 V189.20 H869.36 V192 Z M869.36 192 V186.20 H875.23 V192 Z M875.23 192 V182.20 H881.11 V192 Z M881.11 192 V189.20 H886.98 V192 Z M886.98 192 V185.20 H892.85 V192 Z M892.85 192 V190.20 H898.72 V192 Z M898.72 192 V176.20 H904.60 V192 Z M904.60 192 V189.20 H910.47 V192 Z M910.47 192 V185.20 H916.34 V192 Z M916.34 192 V191.20 H922.21 V192 Z M922.21 192 V177.20 H928.09 V192 Z M928.09 192 V191.20 H933.96 V192 Z M933.96 192 V187.20 H939.83 V192 Z M939.83 192 V189.20 H945.70 V192 Z M945.70 192 V181.20 H951.57 V192 Z M951.57 192 V186.20 H957.45 V192 Z M957.45 192 V190.20 H963.32 V192 Z M963.32 192 V187.20 H969.19 V192 Z M969.19 192 V187.20 H975.06 V192 Z M975.06 192 V187.20 H980.94 V192 Z M980.94 192 V190.20 H986.81 V192 Z M986.81 192 V176.20 H992.68 V192 Z M992.68 192 V188.20 H998.55 V192 Z M998.55 192 V187.20 H1004.43 V192 Z M1004.43 192 V190.20 H1010.30 V192 Z M1010.30 192 V173.20 H1016.17 V192 Z M1016.17 192 V191.20 H1022.04 V192 Z M1022.04 192 V187.20 H1027.91 V192 Z M1033.79 192 V182.20 H1039.66 V192 Z M1039.66 192 V181.20 H1045.53 V192 Z M1045.53 192 V183.20 H1051.40 V192 Z M1051.40 192 V173.20 H1057.28 V192 Z M1057.28 192 V187.20 H1063.15 V192 Z M1063.15 192 V187.20 H1069.02 V192 Z M1069.02 192 V187.20 H1074.89 V192 Z M1074.89 192 V186.20 H1080.77 V192 Z M1080.77 192 V187.20 H1086.64 V192 Z M1086.64 192 V185.20 H1092.51 V192 Z M1092.51 192 V189.20 H1098.38 V192 Z M1098.38 192 V180.20 H1104.26 V192 Z M1104.26 192 V189.20 H1110.13 V192 Z M1110.13 192 V182.20 H1116.00 V192 Z M1116.00 192 V189.20 H1121.88 V192 Z M1121.88 192 V182.20 H1127.75 V192 Z M1127.75 192 V190.20 H1133.62 V192 Z M1133.62 192 V183.20 H1139.50 V192 Z M1139.50 192 V191.20 H1145.38 V192 Z M1145.38 192 V185.20 H1151.25 V192 Z M1151.25 192 V175.20 H1157.12 V192 Z M1157.12 192 V186.20 H1163.00 V192 Z M1163.00 192 V185.20 H1168.88 V192 Z M1168.88 192 V188.20 H1174.75 V192 Z M1174.75 192 V177.20 H1180.62 V192 Z M1180.62 192 V190.20 H1186.50 V192 Z M1186.50 192 V181.20 H1192.38 V192 Z M1192.38 192 V190.20 H1198.25 V192 Z M1198.25 192 V184.20 H1204.12 V192 Z M1204.12 192 V186.20 H1210.00 V192 Z M1210.00 192 V186.20 H1215.88 V192 Z M1215.88 192 V185.20 H1221.75 V192 Z M1221.75 192 V184.20 H1227.62 V192 Z M1227.62 192 V190.20 H1233.50 V192 Z M1233.50 192 V183.20 H1239.38 V192 Z M1239.38 192 V186.20 H1245.25 V192 Z M1245.25 192 V187.20 H1251.12 V192 Z M1251.12 192 V175.20 H1257.00 V192 Z M1257.00 192 V189.20 H1262.88 V192 Z M1262.88 192 V177.20 H1268.75 V192 Z M1268.75 192 V189.20 H1274.62 V192 Z M1274.62 192 V183.20 H1280.50 V192 Z M1280.50 192 V187.20 H1286.38 V192 Z M1286.38 192 V175.20 H1292.25 V192 Z M1292.25 192 V190.20 H1298.12 V192 Z M1298.12 192 V180.20 H1304.00 V192 Z M1304.00 192 V187.20 H1309.88 V192 Z M1309.88 192 V179.20 H1315.75 V192 Z M1315.75 192 V181.20 H1321.62 V192 Z M1321.62 192 V188.20 H1327.50 V192 Z M1327.50 192 V176.20 H1333.38 V192 Z M1333.38 192 V182.20 H1339.25 V192 Z M1339.25 192 V186.20 H1345.12 V192 Z M1345.12 192 V187.20 H1351.00 V192 Z M1351.00 192 V185.20 H1356.88 V192 Z M1356.88 192 V187.20 H1362.75 V192 Z M1362.75 192 V171.20 H1368.62 V192 Z M1368.62 192 V190.20 H1374.50 V192 Z M1374.50 192 V180.20 H1380.38 V192 Z M1380.38 192 V190.20 H1386.25 V192 Z M1386.25 192 V181.20 H1392.12 V192 Z M1392.12 192 V189.20 H1398.00 V192 Z M1398.00 192 V179.20 H1403.87 V192 Z M1403.87 192 V182.20 H1409.74 V192 Z M1409.74 192 V186.20 H1415.61 V192 Z M1415.61 192 V189.20 H1421.48 V192 Z M1421.48 192 V184.20 H1427.35 V192 Z M1427.35 192 V182.20 H1433.22 V192 Z M1433.22 192 V187.20 H1439.09 V192 Z M1439.09 192 V182.20 H1444.96 V192 Z M1444.96 192 V189.20 H1450.83 V192 Z M1450.83 192 V174.20 H1456.70 V192 Z M1456.70 192 V190.20 H1462.57 V192 Z M1462.57 192 V184.20 H1468.44 V192 Z M1468.44 192 V187.20 H1474.31 V192 Z M1474.31 192 V183.20 H1480.18 V192 Z M1480.18 192 V189.20 H1486.05 V192 Z M1486.05 192 V181.20 H1491.92 V192 Z M1491.92 192 V191.20 H1497.79 V192 Z M1497.79 192 V181.20 H1503.66 V192 Z M1503.66 192 V187.20 H1509.53 V192 Z M1509.53 192 V186.20 H1515.40 V192 Z M1515.40 192 V183.20 H1521.27 V192 Z M1521.27 192 V189.20 H1527.14 V192 Z M1527.14 192 V186.20 H1533.01 V192 Z M1533.01 192 V185.20 H1538.88 V192 Z M1538.88 192 V176.20 H1544.75 V192 Z M1544.75 192 V189.20 H1550.62 V192 Z M1550.62 192 V183.20 H1556.49 V192 Z M1556.49 192 V162.20 H1562.36 V192 Z M1562.36 192 V173.20 H1568.23 V192 Z M1568.23 192 V190.20 H1574.10 V192 Z M1574.10 192 V186.20 H1579.97 V192 Z M1579.97 192 V189.20 H1585.84 V192 Z M1585.84 192 V176.20 H1591.71 V192 Z M1591.71 192 V188.20 H1597.58 V192 Z M1597.58 192 V188.20 H1603.45 V192 Z M1603.45 192 V183.20 H1609.32 V192 Z M1609.32 192 V190.20 H1615.19 V192 Z M1615.19 192 V183.20 H1621.06 V192 Z M1621.06 192 V189.20 H1626.93 V192 Z M1626.93 192 V185.20 H1632.80 V192 Z M1632.80 192 V189.20 H1638.67 V192 Z M1638.67 192 V186.20 H1644.54 V192 Z M1644.54 192 V189.20 H1650.41 V192 Z M1650.41 192 V174.20 H1656.28 V192 Z M1656.28 192 V191.20 H1659.00 V192 Z" fill="#a8d078" shape-rendering="crispEdges"/><path d="M282.00 230 V226.20 H287.87 V230 Z M287.87 230 V200.00 H293.74 V230 Z M293.74 230 V200.00 H299.62 V230 Z M299.62 230 V200.00 H305.49 V230 Z M305.49 230 V200.00 H311.36 V230 Z M311.36 230 V200.00 H317.23 V230 Z M317.23 230 V200.00 H323.11 V230 Z M323.11 230 V200.00 H328.98 V230 Z M328.98 230 V200.00 H334.85 V230 Z M334.85 230 V200.00 H340.72 V230 Z M340.72 230 V200.00 H346.60 V230 Z M346.60 230 V200.00 H352.47 V230 Z M352.47 230 V200.00 H358.34 V230 Z M358.34 230 V200.00 H364.21 V230 Z M364.21 230 V201.00 H370.09 V230 Z M370.09 230 V213.00 H375.96 V230 Z M375.96 230 V200.00 H381.83 V230 Z M381.83 230 V200.00 H387.70 V230 Z M387.70 230 V200.00 H393.57 V230 Z M393.57 230 V200.00 H399.45 V230 Z M399.45 230 V200.00 H405.32 V230 Z M405.32 230 V200.00 H411.19 V230 Z M411.19 230 V200.00 H417.06 V230 Z M417.06 230 V200.00 H422.94 V230 Z M422.94 230 V205.00 H428.81 V230 Z M428.81 230 V200.00 H434.68 V230 Z M434.68 230 V200.00 H440.55 V230 Z M440.55 230 V200.00 H446.43 V230 Z M446.43 230 V200.00 H452.30 V230 Z M452.30 230 V224.00 H458.17 V230 Z M464.04 230 V229.00 H469.91 V230 Z M469.91 230 V229.00 H475.79 V230 Z M475.79 230 V228.00 H481.66 V230 Z M481.66 230 V229.00 H487.53 V230 Z M487.53 230 V229.00 H493.40 V230 Z M493.40 230 V229.00 H499.28 V230 Z M499.28 230 V219.00 H505.15 V230 Z M505.15 230 V229.00 H511.02 V230 Z M511.02 230 V218.00 H516.89 V230 Z M516.89 230 V229.00 H522.77 V230 Z M522.77 230 V224.00 H528.64 V230 Z M528.64 230 V228.00 H534.51 V230 Z M534.51 230 V222.00 H540.38 V230 Z M540.38 230 V227.00 H546.26 V230 Z M546.26 230 V219.00 H552.13 V230 Z M552.13 230 V226.00 H558.00 V230 Z M558.00 230 V222.20 H563.88 V230 Z M563.88 230 V229.00 H569.75 V230 Z M569.75 230 V219.20 H575.62 V230 Z M575.62 230 V221.20 H581.50 V230 Z M581.50 230 V229.00 H587.38 V230 Z M587.38 230 V216.20 H593.25 V230 Z M593.25 230 V228.20 H599.12 V230 Z M599.12 230 V214.20 H605.00 V230 Z M605.00 230 V229.00 H610.88 V230 Z M610.88 230 V222.20 H616.75 V230 Z M616.75 230 V229.00 H622.62 V230 Z M622.62 230 V218.20 H628.50 V230 Z M628.50 230 V225.20 H634.38 V230 Z M634.38 230 V221.20 H640.25 V230 Z M640.25 230 V226.20 H646.12 V230 Z M646.12 230 V210.20 H652.00 V230 Z M652.00 230 V221.20 H657.88 V230 Z M657.88 230 V223.20 H663.75 V230 Z M663.75 230 V222.20 H669.62 V230 Z M669.62 230 V222.20 H675.50 V230 Z M675.50 230 V220.20 H681.38 V230 Z M681.38 230 V220.20 H687.25 V230 Z M687.25 230 V222.20 H693.12 V230 Z M693.12 230 V222.20 H699.00 V230 Z M699.00 230 V222.20 H704.88 V230 Z M704.88 230 V222.20 H710.75 V230 Z M710.75 230 V218.20 H716.62 V230 Z M716.62 230 V224.20 H722.50 V230 Z M722.50 230 V218.20 H728.38 V230 Z M728.38 230 V221.20 H734.25 V230 Z M734.25 230 V212.20 H740.12 V230 Z M740.12 230 V221.20 H746.00 V230 Z M746.00 230 V222.20 H751.88 V230 Z M751.88 230 V222.20 H757.75 V230 Z M757.75 230 V217.20 H763.62 V230 Z M763.62 230 V214.20 H769.50 V230 Z M769.50 230 V219.20 H775.38 V230 Z M775.38 230 V223.20 H781.25 V230 Z M781.25 230 V221.20 H787.12 V230 Z M787.12 230 V223.20 H793.00 V230 Z M793.00 230 V224.20 H798.88 V230 Z M798.88 230 V219.20 H804.75 V230 Z M804.75 230 V223.20 H810.62 V230 Z M810.62 230 V214.20 H816.50 V230 Z M816.50 230 V228.20 H822.38 V230 Z M822.38 230 V224.20 H828.25 V230 Z M828.25 230 V221.20 H834.12 V230 Z M834.12 230 V214.20 H840.00 V230 Z M840.00 230 V222.20 H845.87 V230 Z M845.87 230 V214.20 H851.74 V230 Z M851.74 230 V225.20 H857.62 V230 Z M857.62 230 V226.20 H863.49 V230 Z M863.49 230 V227.20 H869.36 V230 Z M869.36 230 V224.20 H875.23 V230 Z M875.23 230 V214.20 H881.11 V230 Z M881.11 230 V220.20 H886.98 V230 Z M886.98 230 V223.20 H892.85 V230 Z M892.85 230 V222.20 H898.72 V230 Z M898.72 230 V223.20 H904.60 V230 Z M904.60 230 V222.20 H910.47 V230 Z M910.47 230 V214.20 H916.34 V230 Z M916.34 230 V229.00 H922.21 V230 Z M922.21 230 V217.20 H928.09 V230 Z M928.09 230 V226.20 H933.96 V230 Z M933.96 230 V217.20 H939.83 V230 Z M939.83 230 V222.20 H945.70 V230 Z M945.70 230 V224.20 H951.57 V230 Z M951.57 230 V228.20 H957.45 V230 Z M957.45 230 V222.20 H963.32 V230 Z M963.32 230 V216.20 H969.19 V230 Z M969.19 230 V225.20 H975.06 V230 Z M975.06 230 V219.20 H980.94 V230 Z M980.94 230 V223.20 H986.81 V230 Z M986.81 230 V217.20 H992.68 V230 Z M992.68 230 V221.20 H998.55 V230 Z M998.55 230 V222.20 H1004.43 V230 Z M1004.43 230 V222.20 H1010.30 V230 Z M1010.30 230 V223.20 H1016.17 V230 Z M1016.17 230 V223.20 H1022.04 V230 Z M1022.04 230 V221.20 H1027.91 V230 Z M1027.91 230 V222.20 H1033.79 V230 Z M1033.79 230 V221.20 H1039.66 V230 Z M1039.66 230 V222.20 H1045.53 V230 Z M1045.53 230 V219.20 H1051.40 V230 Z M1051.40 230 V224.20 H1057.28 V230 Z M1057.28 230 V223.20 H1063.15 V230 Z M1063.15 230 V217.20 H1069.02 V230 Z M1069.02 230 V228.20 H1074.89 V230 Z M1074.89 230 V224.20 H1080.77 V230 Z M1080.77 230 V229.00 H1086.64 V230 Z M1086.64 230 V221.20 H1092.51 V230 Z M1092.51 230 V228.20 H1098.38 V230 Z M1098.38 230 V214.20 H1104.26 V230 Z M1104.26 230 V228.20 H1110.13 V230 Z M1110.13 230 V219.20 H1116.00 V230 Z M1116.00 230 V225.20 H1121.88 V230 Z M1121.88 230 V225.20 H1127.75 V230 Z M1127.75 230 V229.00 H1133.62 V230 Z M1133.62 230 V222.20 H1139.50 V230 Z M1139.50 230 V216.20 H1145.38 V230 Z M1145.38 230 V228.20 H1151.25 V230 Z M1151.25 230 V221.20 H1157.12 V230 Z M1157.12 230 V225.20 H1163.00 V230 Z M1163.00 230 V213.20 H1168.88 V230 Z M1168.88 230 V229.00 H1174.75 V230 Z M1174.75 230 V226.20 H1180.62 V230 Z M1180.62 230 V228.20 H1186.50 V230 Z M1186.50 230 V221.20 H1192.38 V230 Z M1192.38 230 V227.20 H1198.25 V230 Z M1198.25 230 V211.20 H1204.12 V230 Z M1204.12 230 V228.20 H1210.00 V230 Z M1210.00 230 V226.20 H1215.88 V230 Z M1215.88 230 V225.20 H1221.75 V230 Z M1221.75 230 V217.20 H1227.62 V230 Z M1227.62 230 V222.20 H1233.50 V230 Z M1233.50 230 V226.20 H1239.38 V230 Z M1239.38 230 V225.20 H1245.25 V230 Z M1245.25 230 V221.20 H1251.12 V230 Z M1251.12 230 V223.20 H1257.00 V230 Z M1257.00 230 V222.20 H1262.88 V230 Z M1262.88 230 V214.20 H1268.75 V230 Z M1268.75 230 V228.20 H1274.62 V230 Z M1274.62 230 V214.20 H1280.50 V230 Z M1280.50 230 V228.20 H1286.38 V230 Z M1286.38 230 V211.20 H1292.25 V230 Z M1292.25 230 V226.20 H1298.12 V230 Z M1298.12 230 V215.20 H1304.00 V230 Z M1304.00 230 V227.20 H1309.88 V230 Z M1309.88 230 V219.20 H1315.75 V230 Z M1315.75 230 V228.20 H1321.62 V230 Z M1321.62 230 V221.20 H1327.50 V230 Z M1327.50 230 V225.20 H1333.38 V230 Z M1333.38 230 V222.20 H1339.25 V230 Z M1339.25 230 V213.20 H1345.12 V230 Z M1345.12 230 V229.00 H1351.00 V230 Z M1351.00 230 V224.20 H1356.88 V230 Z M1356.88 230 V225.20 H1362.75 V230 Z M1362.75 230 V223.20 H1368.62 V230 Z M1368.62 230 V223.20 H1374.50 V230 Z M1374.50 230 V222.20 H1380.38 V230 Z M1380.38 230 V222.20 H1386.25 V230 Z M1386.25 230 V212.20 H1392.12 V230 Z M1392.12 230 V225.20 H1398.00 V230 Z M1398.00 230 V226.20 H1403.87 V230 Z M1403.87 230 V229.00 H1409.74 V230 Z M1409.74 230 V223.20 H1415.61 V230 Z M1415.61 230 V226.20 H1421.48 V230 Z M1421.48 230 V219.20 H1427.35 V230 Z M1427.35 230 V227.20 H1433.22 V230 Z M1433.22 230 V227.20 H1439.09 V230 Z M1439.09 230 V215.20 H1444.96 V230 Z M1444.96 230 V227.20 H1450.83 V230 Z M1450.83 230 V224.20 H1456.70 V230 Z M1456.70 230 V226.20 H1462.57 V230 Z M1462.57 230 V208.20 H1468.44 V230 Z M1468.44 230 V228.20 H1474.31 V230 Z M1474.31 230 V219.20 H1480.18 V230 Z M1480.18 230 V228.20 H1486.05 V230 Z M1486.05 230 V219.20 H1491.92 V230 Z M1491.92 230 V225.20 H1497.79 V230 Z M1497.79 230 V219.20 H1503.66 V230 Z M1503.66 230 V223.20 H1509.53 V230 Z M1509.53 230 V223.20 H1515.40 V230 Z M1515.40 230 V227.20 H1521.27 V230 Z M1521.27 230 V224.20 H1527.14 V230 Z M1527.14 230 V227.20 H1533.01 V230 Z M1533.01 230 V224.20 H1538.88 V230 Z M1538.88 230 V224.20 H1544.75 V230 Z M1544.75 230 V227.20 H1550.62 V230 Z M1550.62 230 V210.20 H1556.49 V230 Z M1556.49 230 V229.00 H1562.36 V230 Z M1562.36 230 V221.20 H1568.23 V230 Z M1568.23 230 V228.20 H1574.10 V230 Z M1574.10 230 V221.20 H1579.97 V230 Z M1579.97 230 V221.20 H1585.84 V230 Z M1585.84 230 V223.20 H1591.71 V230 Z M1591.71 230 V222.20 H1597.58 V230 Z M1597.58 230 V221.20 H1603.45 V230 Z M1603.45 230 V217.20 H1609.32 V230 Z M1609.32 230 V222.20 H1615.19 V230 Z M1615.19 230 V221.20 H1621.06 V230 Z M1621.06 230 V221.20 H1626.93 V230 Z M1626.93 230 V219.20 H1632.80 V230 Z M1632.80 230 V222.20 H1638.67 V230 Z M1638.67 230 V223.20 H1644.54 V230 Z M1644.54 230 V224.20 H1650.41 V230 Z M1650.41 230 V222.20 H1656.28 V230 Z M1656.28 230 V222.20 H1659.00 V230 Z" fill="#78c27a" shape-rendering="crispEdges"/><path d="M282.00 268 V257.30 H287.87 V268 Z M287.87 268 V265.20 H293.74 V268 Z M293.74 268 V259.30 H299.62 V268 Z M299.62 268 V256.30 H305.49 V268 Z M305.49 268 V265.20 H311.36 V268 Z M311.36 268 V243.50 H317.23 V268 Z M317.23 268 V265.20 H323.11 V268 Z M323.11 268 V257.30 H328.98 V268 Z M328.98 268 V263.20 H334.85 V268 Z M334.85 268 V249.30 H340.72 V268 Z M340.72 268 V264.20 H346.60 V268 Z M346.60 268 V253.30 H352.47 V268 Z M352.47 268 V266.20 H358.34 V268 Z M358.34 268 V251.30 H364.21 V268 Z M364.21 268 V264.20 H370.09 V268 Z M370.09 268 V249.30 H375.96 V268 Z M375.96 268 V261.30 H381.83 V268 Z M381.83 268 V259.30 H387.70 V268 Z M387.70 268 V258.30 H393.57 V268 Z M393.57 268 V265.20 H399.45 V268 Z M399.45 268 V253.30 H405.32 V268 Z M405.32 268 V266.20 H411.19 V268 Z M411.19 268 V248.50 H417.06 V268 Z M417.06 268 V266.20 H422.94 V268 Z M422.94 268 V252.30 H428.81 V268 Z M428.81 268 V265.20 H434.68 V268 Z M434.68 268 V254.30 H440.55 V268 Z M440.55 268 V267.20 H446.43 V268 Z M446.43 268 V249.30 H452.30 V268 Z M452.30 268 V263.20 H458.17 V268 Z M458.17 268 V254.30 H464.04 V268 Z M464.04 268 V267.20 H469.91 V268 Z M469.91 268 V256.30 H475.79 V268 Z M475.79 268 V260.30 H481.66 V268 Z M481.66 268 V261.30 H487.53 V268 Z M487.53 268 V256.30 H493.40 V268 Z M493.40 268 V261.30 H499.28 V268 Z M499.28 268 V261.30 H505.15 V268 Z M505.15 268 V263.20 H511.02 V268 Z M511.02 268 V262.20 H516.89 V268 Z M516.89 268 V259.30 H522.77 V268 Z M522.77 268 V255.30 H528.64 V268 Z M528.64 268 V261.30 H534.51 V268 Z M534.51 268 V257.30 H540.38 V268 Z M540.38 268 V264.20 H546.26 V268 Z M546.26 268 V259.30 H552.13 V268 Z M552.13 268 V262.20 H558.00 V268 Z M558.00 268 V258.30 H563.88 V268 Z M563.88 268 V262.20 H569.75 V268 Z M569.75 268 V259.30 H575.62 V268 Z M575.62 268 V262.20 H581.50 V268 Z M581.50 268 V256.30 H587.38 V268 Z M587.38 268 V250.30 H593.25 V268 Z M593.25 268 V259.30 H599.12 V268 Z M599.12 268 V258.30 H605.00 V268 Z M605.00 268 V260.30 H610.88 V268 Z M610.88 268 V250.30 H616.75 V268 Z M616.75 268 V263.20 H622.62 V268 Z M622.62 268 V262.20 H628.50 V268 Z M628.50 268 V266.20 H634.38 V268 Z M634.38 268 V255.30 H640.25 V268 Z M640.25 268 V267.20 H646.12 V268 Z M646.12 268 V262.20 H652.00 V268 Z M652.00 268 V265.20 H657.88 V268 Z M657.88 268 V262.20 H663.75 V268 Z M663.75 268 V266.20 H669.62 V268 Z M669.62 268 V258.30 H675.50 V268 Z M675.50 268 V266.20 H681.38 V268 Z M681.38 268 V261.30 H687.25 V268 Z M687.25 268 V262.20 H693.12 V268 Z M693.12 268 V265.20 H699.00 V268 Z M699.00 268 V254.30 H704.88 V268 Z M704.88 268 V267.20 H710.75 V268 Z M710.75 268 V262.20 H716.62 V268 Z M716.62 268 V265.20 H722.50 V268 Z M722.50 268 V255.30 H728.38 V268 Z M728.38 268 V265.20 H734.25 V268 Z M734.25 268 V253.30 H740.12 V268 Z M740.12 268 V256.30 H746.00 V268 Z M746.00 268 V261.30 H751.88 V268 Z M751.88 268 V267.20 H757.75 V268 Z M757.75 268 V261.30 H763.62 V268 Z M763.62 268 V264.20 H769.50 V268 Z M769.50 268 V263.20 H775.38 V268 Z M775.38 268 V264.20 H781.25 V268 Z M781.25 268 V263.20 H787.12 V268 Z M787.12 268 V252.30 H793.00 V268 Z M793.00 268 V266.20 H798.88 V268 Z M798.88 268 V262.20 H804.75 V268 Z M804.75 268 V266.20 H810.62 V268 Z M810.62 268 V258.30 H816.50 V268 Z M816.50 268 V266.20 H822.38 V268 Z M822.38 268 V260.30 H828.25 V268 Z M828.25 268 V266.20 H834.12 V268 Z M834.12 268 V260.30 H840.00 V268 Z M840.00 268 V264.20 H845.87 V268 Z M845.87 268 V260.30 H851.74 V268 Z M857.62 268 V258.30 H863.49 V268 Z M863.49 268 V257.30 H869.36 V268 Z M869.36 268 V266.20 H875.23 V268 Z M875.23 268 V261.30 H881.11 V268 Z M881.11 268 V265.20 H886.98 V268 Z M886.98 268 V253.30 H892.85 V268 Z M898.72 268 V261.30 H904.60 V268 Z M904.60 268 V266.20 H910.47 V268 Z M910.47 268 V258.30 H916.34 V268 Z M916.34 268 V258.30 H922.21 V268 Z M922.21 268 V258.30 H928.09 V268 Z M928.09 268 V260.30 H933.96 V268 Z M933.96 268 V259.30 H939.83 V268 Z M939.83 268 V262.20 H945.70 V268 Z M945.70 268 V259.30 H951.57 V268 Z M951.57 268 V262.20 H957.45 V268 Z M957.45 268 V259.30 H963.32 V268 Z M963.32 268 V260.30 H969.19 V268 Z M969.19 268 V259.30 H975.06 V268 Z M975.06 268 V252.30 H980.94 V268 Z M980.94 268 V266.20 H986.81 V268 Z M986.81 268 V258.30 H992.68 V268 Z M992.68 268 V265.20 H998.55 V268 Z M998.55 268 V248.50 H1004.43 V268 Z M1004.43 268 V267.20 H1010.30 V268 Z M1010.30 268 V260.30 H1016.17 V268 Z M1016.17 268 V265.20 H1022.04 V268 Z M1022.04 268 V250.30 H1027.91 V268 Z M1027.91 268 V263.20 H1033.79 V268 Z M1033.79 268 V258.30 H1039.66 V268 Z M1039.66 268 V263.20 H1045.53 V268 Z M1045.53 268 V258.30 H1051.40 V268 Z M1051.40 268 V259.30 H1057.28 V268 Z M1057.28 268 V258.30 H1063.15 V268 Z M1063.15 268 V260.30 H1069.02 V268 Z M1069.02 268 V261.30 H1074.89 V268 Z M1074.89 268 V260.30 H1080.77 V268 Z M1080.77 268 V261.30 H1086.64 V268 Z M1086.64 268 V258.30 H1092.51 V268 Z M1092.51 268 V260.30 H1098.38 V268 Z M1098.38 268 V261.30 H1104.26 V268 Z M1104.26 268 V260.30 H1110.13 V268 Z M1110.13 268 V258.30 H1116.00 V268 Z M1116.00 268 V260.30 H1121.88 V268 Z M1121.88 268 V260.30 H1127.75 V268 Z M1127.75 268 V262.20 H1133.62 V268 Z M1133.62 268 V258.30 H1139.50 V268 Z M1139.50 268 V261.30 H1145.38 V268 Z M1145.38 268 V257.30 H1151.25 V268 Z M1151.25 268 V262.20 H1157.12 V268 Z M1157.12 268 V262.20 H1163.00 V268 Z M1163.00 268 V263.20 H1168.88 V268 Z M1168.88 268 V265.20 H1174.75 V268 Z M1174.75 268 V259.30 H1180.62 V268 Z M1180.62 268 V267.20 H1186.50 V268 Z M1186.50 268 V259.30 H1192.38 V268 Z M1192.38 268 V264.20 H1198.25 V268 Z M1198.25 268 V262.20 H1204.12 V268 Z M1204.12 268 V266.20 H1210.00 V268 Z M1210.00 268 V252.30 H1215.88 V268 Z M1215.88 268 V263.20 H1221.75 V268 Z M1221.75 268 V264.20 H1227.62 V268 Z M1233.50 268 V260.30 H1239.38 V268 Z M1239.38 268 V253.30 H1245.25 V268 Z M1245.25 268 V266.20 H1251.12 V268 Z M1251.12 268 V265.20 H1257.00 V268 Z M1257.00 268 V265.20 H1262.88 V268 Z M1262.88 268 V260.30 H1268.75 V268 Z M1268.75 268 V257.30 H1274.62 V268 Z M1274.62 268 V238.50 H1280.50 V268 Z M1280.50 268 V238.50 H1286.38 V268 Z M1286.38 268 V251.30 H1292.25 V268 Z M1292.25 268 V267.20 H1298.12 V268 Z M1298.12 268 V264.20 H1304.00 V268 Z M1304.00 268 V265.20 H1309.88 V268 Z M1309.88 268 V263.20 H1315.75 V268 Z M1315.75 268 V263.20 H1321.62 V268 Z M1321.62 268 V259.30 H1327.50 V268 Z M1327.50 268 V267.20 H1333.38 V268 Z M1333.38 268 V264.20 H1339.25 V268 Z M1339.25 268 V263.20 H1345.12 V268 Z M1345.12 268 V265.20 H1351.00 V268 Z M1351.00 268 V251.30 H1356.88 V268 Z M1356.88 268 V267.20 H1362.75 V268 Z M1362.75 268 V266.20 H1368.62 V268 Z M1368.62 268 V265.20 H1374.50 V268 Z M1374.50 268 V253.30 H1380.38 V268 Z M1380.38 268 V267.20 H1386.25 V268 Z M1386.25 268 V263.20 H1392.12 V268 Z M1392.12 268 V265.20 H1398.00 V268 Z M1398.00 268 V256.30 H1403.87 V268 Z M1403.87 268 V266.20 H1409.74 V268 Z M1409.74 268 V258.30 H1415.61 V268 Z M1415.61 268 V259.30 H1421.48 V268 Z M1421.48 268 V265.20 H1427.35 V268 Z M1427.35 268 V266.20 H1433.22 V268 Z M1433.22 268 V263.20 H1439.09 V268 Z M1439.09 268 V262.20 H1444.96 V268 Z M1444.96 268 V265.20 H1450.83 V268 Z M1450.83 268 V260.30 H1456.70 V268 Z M1456.70 268 V267.20 H1462.57 V268 Z M1462.57 268 V258.30 H1468.44 V268 Z M1468.44 268 V266.20 H1474.31 V268 Z M1474.31 268 V260.30 H1480.18 V268 Z M1480.18 268 V265.20 H1486.05 V268 Z M1486.05 268 V256.30 H1491.92 V268 Z M1491.92 268 V261.30 H1497.79 V268 Z M1497.79 268 V259.30 H1503.66 V268 Z M1503.66 268 V262.20 H1509.53 V268 Z M1509.53 268 V260.30 H1515.40 V268 Z M1515.40 268 V262.20 H1521.27 V268 Z M1521.27 268 V259.30 H1527.14 V268 Z M1527.14 268 V261.30 H1533.01 V268 Z M1533.01 268 V261.30 H1538.88 V268 Z M1538.88 268 V260.30 H1544.75 V268 Z M1544.75 268 V261.30 H1550.62 V268 Z M1550.62 268 V244.50 H1556.49 V268 Z M1556.49 268 V256.30 H1562.36 V268 Z M1562.36 268 V255.30 H1568.23 V268 Z M1568.23 268 V262.20 H1574.10 V268 Z M1574.10 268 V259.30 H1579.97 V268 Z M1579.97 268 V266.20 H1585.84 V268 Z M1585.84 268 V262.20 H1591.71 V268 Z M1591.71 268 V265.20 H1597.58 V268 Z M1597.58 268 V259.30 H1603.45 V268 Z M1603.45 268 V263.20 H1609.32 V268 Z M1609.32 268 V260.30 H1615.19 V268 Z M1615.19 268 V254.30 H1621.06 V268 Z M1626.93 268 V255.30 H1632.80 V268 Z M1638.67 268 V260.30 H1644.54 V268 Z M1644.54 268 V265.20 H1650.41 V268 Z M1650.41 268 V257.30 H1656.28 V268 Z M1656.28 268 V266.20 H1659.00 V268 Z" fill="#90e69a" shape-rendering="crispEdges"/><path d="M282.00 306 V293.00 H287.87 V306 Z M287.87 306 V289.20 H293.74 V306 Z M293.74 306 V297.00 H299.62 V306 Z M299.62 306 V305.00 H305.49 V306 Z M305.49 306 V298.00 H311.36 V306 Z M311.36 306 V296.00 H317.23 V306 Z M317.23 306 V300.00 H323.11 V306 Z M323.11 306 V289.20 H328.98 V306 Z M328.98 306 V305.00 H334.85 V306 Z M334.85 306 V294.00 H340.72 V306 Z M340.72 306 V295.00 H346.60 V306 Z M346.60 306 V293.00 H352.47 V306 Z M352.47 306 V298.00 H358.34 V306 Z M358.34 306 V289.20 H364.21 V306 Z M364.21 306 V304.00 H370.09 V306 Z M370.09 306 V292.00 H375.96 V306 Z M375.96 306 V302.00 H381.83 V306 Z M381.83 306 V295.00 H387.70 V306 Z M387.70 306 V304.00 H393.57 V306 Z M393.57 306 V297.00 H399.45 V306 Z M399.45 306 V302.00 H405.32 V306 Z M405.32 306 V297.00 H411.19 V306 Z M411.19 306 V298.00 H417.06 V306 Z M417.06 306 V295.00 H422.94 V306 Z M422.94 306 V293.00 H428.81 V306 Z M428.81 306 V302.00 H434.68 V306 Z M434.68 306 V298.00 H440.55 V306 Z M440.55 306 V303.00 H446.43 V306 Z M446.43 306 V296.00 H452.30 V306 Z M452.30 306 V297.00 H458.17 V306 Z M458.17 306 V296.00 H464.04 V306 Z M464.04 306 V304.00 H469.91 V306 Z M469.91 306 V293.00 H475.79 V306 Z M475.79 306 V296.00 H481.66 V306 Z M481.66 306 V294.00 H487.53 V306 Z M487.53 306 V299.00 H493.40 V306 Z M493.40 306 V293.00 H499.28 V306 Z M499.28 306 V302.00 H505.15 V306 Z M505.15 306 V301.00 H511.02 V306 Z M511.02 306 V301.00 H516.89 V306 Z M516.89 306 V303.00 H522.77 V306 Z M522.77 306 V299.00 H528.64 V306 Z M528.64 306 V302.00 H534.51 V306 Z M534.51 306 V296.00 H540.38 V306 Z M540.38 306 V300.00 H546.26 V306 Z M546.26 306 V295.00 H552.13 V306 Z M552.13 306 V283.00 H558.00 V306 Z M558.00 306 V296.00 H563.88 V306 Z M563.88 306 V302.00 H569.75 V306 Z M569.75 306 V296.00 H575.62 V306 Z M575.62 306 V305.00 H581.50 V306 Z M581.50 306 V298.00 H587.38 V306 Z M587.38 306 V301.00 H593.25 V306 Z M593.25 306 V298.00 H599.12 V306 Z M599.12 306 V300.00 H605.00 V306 Z M605.00 306 V301.00 H610.88 V306 Z M610.88 306 V297.00 H616.75 V306 Z M616.75 306 V298.00 H622.62 V306 Z M622.62 306 V299.00 H628.50 V306 Z M628.50 306 V297.00 H634.38 V306 Z M634.38 306 V297.00 H640.25 V306 Z M640.25 306 V299.00 H646.12 V306 Z M646.12 306 V297.00 H652.00 V306 Z M652.00 306 V300.00 H657.88 V306 Z M657.88 306 V296.00 H663.75 V306 Z M663.75 306 V300.00 H669.62 V306 Z M669.62 306 V303.00 H675.50 V306 Z M675.50 306 V304.00 H681.38 V306 Z M681.38 306 V303.00 H687.25 V306 Z M687.25 306 V302.00 H693.12 V306 Z M693.12 306 V303.00 H699.00 V306 Z M699.00 306 V297.00 H704.88 V306 Z M704.88 306 V304.00 H710.75 V306 Z M710.75 306 V278.00 H716.62 V306 Z M716.62 306 V276.00 H722.50 V306 Z M722.50 306 V292.00 H728.38 V306 Z M728.38 306 V303.00 H734.25 V306 Z M734.25 306 V287.00 H740.12 V306 Z M740.12 306 V304.00 H746.00 V306 Z M746.00 306 V293.00 H751.88 V306 Z M751.88 306 V299.00 H757.75 V306 Z M757.75 306 V300.00 H763.62 V306 Z M763.62 306 V298.00 H769.50 V306 Z M769.50 306 V305.00 H775.38 V306 Z M775.38 306 V303.00 H781.25 V306 Z M781.25 306 V300.00 H787.12 V306 Z M787.12 306 V299.00 H793.00 V306 Z M793.00 306 V304.00 H798.88 V306 Z M798.88 306 V291.00 H804.75 V306 Z M804.75 306 V304.00 H810.62 V306 Z M810.62 306 V287.00 H816.50 V306 Z M816.50 306 V304.00 H822.38 V306 Z M822.38 306 V297.00 H828.25 V306 Z M828.25 306 V303.00 H834.12 V306 Z M834.12 306 V301.00 H840.00 V306 Z M840.00 306 V304.00 H845.87 V306 Z M845.87 306 V300.00 H851.74 V306 Z M851.74 306 V299.00 H857.62 V306 Z M857.62 306 V298.00 H863.49 V306 Z M863.49 306 V298.00 H869.36 V306 Z M869.36 306 V298.00 H875.23 V306 Z M875.23 306 V293.00 H881.11 V306 Z M881.11 306 V304.00 H886.98 V306 Z M886.98 306 V300.00 H892.85 V306 Z M892.85 306 V304.00 H898.72 V306 Z M898.72 306 V298.00 H904.60 V306 Z M904.60 306 V304.00 H910.47 V306 Z M910.47 306 V297.00 H916.34 V306 Z M916.34 306 V304.00 H922.21 V306 Z M922.21 306 V294.00 H928.09 V306 Z M928.09 306 V303.00 H933.96 V306 Z M933.96 306 V296.00 H939.83 V306 Z M939.83 306 V304.00 H945.70 V306 Z M945.70 306 V296.00 H951.57 V306 Z M951.57 306 V304.00 H957.45 V306 Z M957.45 306 V296.00 H963.32 V306 Z M963.32 306 V300.00 H969.19 V306 Z M969.19 306 V300.00 H975.06 V306 Z M975.06 306 V297.00 H980.94 V306 Z M980.94 306 V304.00 H986.81 V306 Z M986.81 306 V294.00 H992.68 V306 Z M992.68 306 V276.00 H998.55 V306 Z M998.55 306 V276.00 H1004.43 V306 Z M1004.43 306 V302.00 H1010.30 V306 Z M1010.30 306 V297.00 H1016.17 V306 Z M1016.17 306 V305.00 H1022.04 V306 Z M1022.04 306 V294.00 H1027.91 V306 Z M1027.91 306 V305.00 H1033.79 V306 Z M1033.79 306 V297.00 H1039.66 V306 Z M1039.66 306 V296.00 H1045.53 V306 Z M1045.53 306 V304.00 H1051.40 V306 Z M1051.40 306 V302.00 H1057.28 V306 Z M1057.28 306 V302.00 H1063.15 V306 Z M1063.15 306 V302.00 H1069.02 V306 Z M1069.02 306 V300.00 H1074.89 V306 Z M1074.89 306 V291.00 H1080.77 V306 Z M1080.77 306 V304.00 H1086.64 V306 Z M1086.64 306 V295.00 H1092.51 V306 Z M1092.51 306 V305.00 H1098.38 V306 Z M1098.38 306 V299.00 H1104.26 V306 Z M1104.26 306 V305.00 H1110.13 V306 Z M1110.13 306 V296.00 H1116.00 V306 Z M1116.00 306 V304.00 H1121.88 V306 Z M1121.88 306 V291.00 H1127.75 V306 Z M1127.75 306 V298.00 H1133.62 V306 Z M1133.62 306 V297.00 H1139.50 V306 Z M1139.50 306 V301.00 H1145.38 V306 Z M1145.38 306 V298.00 H1151.25 V306 Z M1151.25 306 V286.20 H1157.12 V306 Z M1157.12 306 V297.00 H1163.00 V306 Z M1163.00 306 V299.00 H1168.88 V306 Z M1168.88 306 V297.00 H1174.75 V306 Z M1174.75 306 V298.00 H1180.62 V306 Z M1180.62 306 V298.00 H1186.50 V306 Z M1186.50 306 V297.00 H1192.38 V306 Z M1192.38 306 V297.00 H1198.25 V306 Z M1198.25 306 V299.00 H1204.12 V306 Z M1204.12 306 V298.00 H1210.00 V306 Z M1210.00 306 V294.00 H1215.88 V306 Z M1215.88 306 V299.00 H1221.75 V306 Z M1221.75 306 V297.00 H1227.62 V306 Z M1227.62 306 V300.00 H1233.50 V306 Z M1233.50 306 V297.00 H1239.38 V306 Z M1239.38 306 V297.00 H1245.25 V306 Z M1245.25 306 V298.00 H1251.12 V306 Z M1251.12 306 V295.00 H1257.00 V306 Z M1257.00 306 V296.00 H1262.88 V306 Z M1262.88 306 V299.00 H1268.75 V306 Z M1268.75 306 V293.00 H1274.62 V306 Z M1274.62 306 V294.00 H1280.50 V306 Z M1280.50 306 V299.00 H1286.38 V306 Z M1286.38 306 V294.00 H1292.25 V306 Z M1292.25 306 V298.00 H1298.12 V306 Z M1298.12 306 V299.00 H1304.00 V306 Z M1304.00 306 V297.00 H1309.88 V306 Z M1309.88 306 V299.00 H1315.75 V306 Z M1315.75 306 V299.00 H1321.62 V306 Z M1321.62 306 V296.00 H1327.50 V306 Z M1327.50 306 V295.00 H1333.38 V306 Z M1333.38 306 V301.00 H1339.25 V306 Z M1339.25 306 V302.00 H1345.12 V306 Z M1345.12 306 V297.00 H1351.00 V306 Z M1351.00 306 V296.00 H1356.88 V306 Z M1356.88 306 V297.00 H1362.75 V306 Z M1362.75 306 V288.00 H1368.62 V306 Z M1368.62 306 V298.00 H1374.50 V306 Z M1374.50 306 V293.00 H1380.38 V306 Z M1380.38 306 V300.00 H1386.25 V306 Z M1386.25 306 V298.00 H1392.12 V306 Z M1392.12 306 V297.00 H1398.00 V306 Z M1398.00 306 V295.00 H1403.87 V306 Z M1403.87 306 V300.00 H1409.74 V306 Z M1409.74 306 V295.00 H1415.61 V306 Z M1415.61 306 V298.00 H1421.48 V306 Z M1421.48 306 V298.00 H1427.35 V306 Z M1427.35 306 V298.00 H1433.22 V306 Z M1433.22 306 V300.00 H1439.09 V306 Z M1439.09 306 V296.00 H1444.96 V306 Z M1444.96 306 V296.00 H1450.83 V306 Z M1450.83 306 V296.00 H1456.70 V306 Z M1456.70 306 V299.00 H1462.57 V306 Z M1462.57 306 V298.00 H1468.44 V306 Z M1468.44 306 V296.00 H1474.31 V306 Z M1474.31 306 V291.00 H1480.18 V306 Z M1480.18 306 V297.00 H1486.05 V306 Z M1486.05 306 V290.00 H1491.92 V306 Z M1491.92 306 V303.00 H1497.79 V306 Z M1497.79 306 V301.00 H1503.66 V306 Z M1503.66 306 V303.00 H1509.53 V306 Z M1509.53 306 V298.00 H1515.40 V306 Z M1515.40 306 V304.00 H1521.27 V306 Z M1521.27 306 V298.00 H1527.14 V306 Z M1527.14 306 V291.00 H1533.01 V306 Z M1533.01 306 V304.00 H1538.88 V306 Z M1538.88 306 V298.00 H1544.75 V306 Z M1544.75 306 V304.00 H1550.62 V306 Z M1550.62 306 V294.00 H1556.49 V306 Z M1556.49 306 V300.00 H1562.36 V306 Z M1562.36 306 V287.00 H1568.23 V306 Z M1568.23 306 V303.00 H1574.10 V306 Z M1574.10 306 V289.20 H1579.97 V306 Z M1579.97 306 V302.00 H1585.84 V306 Z M1585.84 306 V297.00 H1591.71 V306 Z M1597.58 306 V295.00 H1603.45 V306 Z M1603.45 306 V301.00 H1609.32 V306 Z M1609.32 306 V296.00 H1615.19 V306 Z M1615.19 306 V302.00 H1621.06 V306 Z M1621.06 306 V300.00 H1626.93 V306 Z M1626.93 306 V297.00 H1632.80 V306 Z M1632.80 306 V303.00 H1638.67 V306 Z M1638.67 306 V292.00 H1644.54 V306 Z M1644.54 306 V304.00 H1650.41 V306 Z M1650.41 306 V299.00 H1656.28 V306 Z M1656.28 306 V304.00 H1659.00 V306 Z" fill="#74d8c8" shape-rendering="crispEdges"/><path d="M282.00 344 V342.80 H287.87 V344 Z M305.49 344 V342.80 H311.36 V344 Z M323.11 344 V342.80 H328.98 V344 Z M334.85 344 V342.80 H340.72 V344 Z M346.60 344 V342.80 H352.47 V344 Z M358.34 344 V342.80 H364.21 V344 Z M370.09 344 V341.00 H375.96 V344 Z M381.83 344 V342.00 H387.70 V344 Z M393.57 344 V342.80 H399.45 V344 Z M399.45 344 V342.80 H405.32 V344 Z M405.32 344 V340.00 H411.19 V344 Z M422.94 344 V342.80 H428.81 V344 Z M428.81 344 V342.00 H434.68 V344 Z M434.68 344 V342.80 H440.55 V344 Z M440.55 344 V342.00 H446.43 V344 Z M458.17 344 V341.00 H464.04 V344 Z M464.04 344 V342.00 H469.91 V344 Z M469.91 344 V342.80 H475.79 V344 Z M481.66 344 V342.00 H487.53 V344 Z M534.51 344 V342.80 H540.38 V344 Z M546.26 344 V342.80 H552.13 V344 Z M558.00 344 V342.80 H564.00 V344 Z M570.00 344 V342.80 H576.00 V344 Z M624.00 344 V342.80 H630.00 V344 Z M702.00 344 V342.80 H708.00 V344 Z M738.00 344 V342.80 H744.00 V344 Z M762.00 344 V342.80 H768.00 V344 Z M816.00 344 V342.80 H822.00 V344 Z M845.87 344 V342.80 H851.74 V344 Z M886.98 344 V342.80 H892.85 V344 Z M910.47 344 V341.00 H916.34 V344 Z M1027.91 344 V342.80 H1033.79 V344 Z M1039.66 344 V342.80 H1045.53 V344 Z M1069.02 344 V342.80 H1074.89 V344 Z M1104.26 344 V342.80 H1110.13 V344 Z M1122.00 344 V342.80 H1128.00 V344 Z M1134.00 344 V342.80 H1140.00 V344 Z M1164.00 344 V342.80 H1170.00 V344 Z M1188.00 344 V342.80 H1194.00 V344 Z M1236.00 344 V342.80 H1242.00 V344 Z M1278.00 344 V342.80 H1284.00 V344 Z M1290.00 344 V342.80 H1296.00 V344 Z M1314.00 344 V342.80 H1320.00 V344 Z M1386.00 344 V342.80 H1392.00 V344 Z M1392.00 344 V342.80 H1398.00 V344 Z M1450.83 344 V342.80 H1456.70 V344 Z M1533.01 344 V342.80 H1538.88 V344 Z M1556.49 344 V342.80 H1562.36 V344 Z M1579.97 344 V342.80 H1585.84 V344 Z M1585.84 344 V342.80 H1591.71 V344 Z M1591.71 344 V342.80 H1597.58 V344 Z" fill="#2ccbb0" shape-rendering="crispEdges"/><path d="M381.83 382 V379.00 H387.70 V382 Z M393.57 382 V380.00 H399.45 V382 Z M399.45 382 V380.80 H405.32 V382 Z M405.32 382 V380.00 H411.19 V382 Z M422.94 382 V378.00 H428.81 V382 Z M428.81 382 V380.80 H434.68 V382 Z M434.68 382 V379.00 H440.55 V382 Z M446.43 382 V380.80 H452.30 V382 Z M458.17 382 V380.80 H464.04 V382 Z M469.91 382 V380.80 H475.79 V382 Z M546.26 382 V380.80 H552.13 V382 Z M624.00 382 V380.80 H630.00 V382 Z M642.00 382 V380.80 H648.00 V382 Z M998.55 382 V380.80 H1004.43 V382 Z" fill="#1fb2f5" shape-rendering="crispEdges"/><path d="M370.09 420 V418.80 H375.96 V420 Z M393.57 420 V417.00 H399.45 V420 Z M405.32 420 V418.80 H411.19 V420 Z M411.19 420 V418.80 H417.06 V420 Z M417.06 420 V416.00 H422.94 V420 Z M434.68 420 V418.80 H440.55 V420 Z M446.43 420 V418.80 H452.30 V420 Z M452.30 420 V413.00 H458.17 V420 Z M1069.02 420 V418.80 H1074.89 V420 Z" fill="#a8ddf8" shape-rendering="crispEdges"/><path d="M287.87 458 V436.30 H293.74 V458 Z M293.74 458 V437.20 H299.62 V458 Z M299.62 458 V439.20 H305.49 V458 Z M305.49 458 V434.20 H311.36 V458 Z M311.36 458 V449.20 H317.23 V458 Z M317.23 458 V430.20 H323.11 V458 Z M323.11 458 V444.20 H328.98 V458 Z M328.98 458 V428.30 H334.85 V458 Z M334.85 458 V445.20 H340.72 V458 Z M340.72 458 V428.30 H346.60 V458 Z M346.60 458 V444.20 H352.47 V458 Z M352.47 458 V428.30 H358.34 V458 Z M358.34 458 V445.20 H364.21 V458 Z M364.21 458 V428.30 H370.09 V458 Z M370.09 458 V444.20 H375.96 V458 Z M375.96 458 V428.30 H381.83 V458 Z M381.83 458 V441.20 H387.70 V458 Z M387.70 458 V433.30 H393.57 V458 Z M393.57 458 V436.30 H399.45 V458 Z M399.45 458 V441.20 H405.32 V458 Z M405.32 458 V431.30 H411.19 V458 Z M411.19 458 V447.20 H417.06 V458 Z M417.06 458 V428.30 H422.94 V458 Z M422.94 458 V444.20 H428.81 V458 Z M428.81 458 V428.30 H434.68 V458 Z M434.68 458 V445.20 H440.55 V458 Z M440.55 458 V428.30 H446.43 V458 Z M446.43 458 V448.20 H452.30 V458 Z M452.30 458 V428.30 H458.17 V458 Z M458.17 458 V444.20 H464.04 V458 Z M464.04 458 V428.30 H469.91 V458 Z M469.91 458 V442.20 H475.79 V458 Z M475.79 458 V429.30 H481.66 V458 Z M481.66 458 V437.20 H487.53 V458 Z M487.53 458 V438.20 H493.40 V458 Z M493.40 458 V433.30 H499.28 V458 Z M499.28 458 V441.20 H505.15 V458 Z M505.15 458 V430.20 H511.02 V458 Z M511.02 458 V442.20 H516.89 V458 Z M516.89 458 V428.30 H522.77 V458 Z M522.77 458 V446.20 H528.64 V458 Z M528.64 458 V428.30 H534.51 V458 Z M534.51 458 V441.20 H540.38 V458 Z M540.38 458 V428.30 H546.26 V458 Z M546.26 458 V446.20 H552.13 V458 Z M552.13 458 V428.30 H558.00 V458 Z M558.00 458 V444.20 H563.88 V458 Z M563.88 458 V435.20 H569.75 V458 Z M569.75 458 V440.20 H575.62 V458 Z M575.62 458 V432.20 H581.50 V458 Z M581.50 458 V436.30 H587.38 V458 Z M587.38 458 V438.20 H593.25 V458 Z M593.25 458 V431.30 H599.12 V458 Z M599.12 458 V442.20 H605.00 V458 Z M605.00 458 V428.30 H610.88 V458 Z M610.88 458 V444.20 H616.75 V458 Z M616.75 458 V428.30 H622.62 V458 Z M622.62 458 V447.20 H628.50 V458 Z M628.50 458 V428.30 H634.38 V458 Z M634.38 458 V441.20 H640.25 V458 Z M640.25 458 V428.30 H646.12 V458 Z M646.12 458 V446.20 H652.00 V458 Z M652.00 458 V430.20 H657.88 V458 Z M657.88 458 V442.20 H663.75 V458 Z M663.75 458 V430.20 H669.62 V458 Z M669.62 458 V437.20 H675.50 V458 Z M675.50 458 V436.30 H681.38 V458 Z M681.38 458 V434.20 H687.25 V458 Z M687.25 458 V440.20 H693.12 V458 Z M693.12 458 V430.20 H699.00 V458 Z M699.00 458 V442.20 H704.88 V458 Z M704.88 458 V428.30 H710.75 V458 Z M710.75 458 V443.20 H716.62 V458 Z M716.62 458 V428.30 H722.50 V458 Z M722.50 458 V446.20 H728.38 V458 Z M728.38 458 V428.30 H734.25 V458 Z M734.25 458 V448.20 H740.12 V458 Z M740.12 458 V437.20 H746.00 V458 Z M746.00 458 V443.20 H751.88 V458 Z M751.88 458 V430.20 H757.75 V458 Z M757.75 458 V440.20 H763.62 V458 Z M763.62 458 V432.20 H769.50 V458 Z M769.50 458 V435.20 H775.38 V458 Z M775.38 458 V436.30 H781.25 V458 Z M781.25 458 V432.20 H787.12 V458 Z M787.12 458 V443.20 H793.00 V458 Z M793.00 458 V428.30 H798.88 V458 Z M798.88 458 V443.20 H804.75 V458 Z M804.75 458 V428.30 H810.62 V458 Z M810.62 458 V446.20 H816.50 V458 Z M816.50 458 V428.30 H822.38 V458 Z M822.38 458 V443.20 H828.25 V458 Z M828.25 458 V428.30 H834.12 V458 Z M834.12 458 V445.20 H840.00 V458 Z M840.00 458 V429.30 H845.87 V458 Z M845.87 458 V441.20 H851.74 V458 Z M851.74 458 V430.30 H857.62 V458 Z M857.62 458 V437.20 H863.49 V458 Z M863.49 458 V434.20 H869.36 V458 Z M869.36 458 V433.30 H875.23 V458 Z M875.23 458 V440.20 H881.11 V458 Z M881.11 458 V429.30 H886.98 V458 Z M886.98 458 V443.20 H892.85 V458 Z M892.85 458 V428.30 H898.72 V458 Z M898.72 458 V440.20 H904.60 V458 Z M904.60 458 V428.30 H910.47 V458 Z M910.47 458 V446.20 H916.34 V458 Z M916.34 458 V428.30 H922.21 V458 Z M922.21 458 V443.20 H928.09 V458 Z M928.09 458 V428.30 H933.96 V458 Z M933.96 458 V442.20 H939.83 V458 Z M939.83 458 V433.30 H945.70 V458 Z M945.70 458 V439.20 H951.57 V458 Z M951.57 458 V430.30 H957.45 V458 Z M957.45 458 V436.30 H963.32 V458 Z M963.32 458 V440.20 H969.19 V458 Z M969.19 458 V430.30 H975.06 V458 Z M975.06 458 V448.20 H980.94 V458 Z M980.94 458 V428.30 H986.81 V458 Z M986.81 458 V445.20 H992.68 V458 Z M992.68 458 V428.30 H998.55 V458 Z M998.55 458 V445.20 H1004.43 V458 Z M1004.43 458 V428.30 H1010.30 V458 Z M1010.30 458 V446.20 H1016.17 V458 Z M1016.17 458 V428.30 H1022.04 V458 Z M1022.04 458 V444.20 H1027.91 V458 Z M1027.91 458 V428.30 H1033.79 V458 Z M1033.79 458 V441.20 H1039.66 V458 Z M1039.66 458 V434.20 H1045.53 V458 Z M1045.53 458 V436.30 H1051.40 V458 Z M1051.40 458 V445.20 H1057.28 V458 Z M1057.28 458 V433.30 H1063.15 V458 Z M1063.15 458 V439.20 H1069.02 V458 Z M1069.02 458 V429.30 H1074.89 V458 Z M1074.89 458 V442.20 H1080.77 V458 Z M1080.77 458 V428.30 H1086.64 V458 Z M1086.64 458 V443.20 H1092.51 V458 Z M1092.51 458 V428.30 H1098.38 V458 Z M1098.38 458 V443.20 H1104.26 V458 Z M1104.26 458 V428.30 H1110.13 V458 Z M1110.13 458 V445.20 H1116.00 V458 Z M1116.00 458 V429.30 H1121.88 V458 Z M1121.88 458 V442.20 H1127.75 V458 Z M1127.75 458 V432.20 H1133.62 V458 Z M1133.62 458 V439.20 H1139.50 V458 Z M1139.50 458 V436.30 H1145.38 V458 Z M1145.38 458 V434.20 H1151.25 V458 Z M1151.25 458 V441.20 H1157.12 V458 Z M1157.12 458 V430.30 H1163.00 V458 Z M1163.00 458 V444.20 H1168.88 V458 Z M1168.88 458 V428.30 H1174.75 V458 Z M1174.75 458 V443.20 H1180.62 V458 Z M1180.62 458 V428.30 H1186.50 V458 Z M1186.50 458 V441.20 H1192.38 V458 Z M1192.38 458 V428.30 H1198.25 V458 Z M1198.25 458 V447.20 H1204.12 V458 Z M1204.12 458 V428.30 H1210.00 V458 Z M1210.00 458 V445.20 H1215.88 V458 Z M1215.88 458 V430.30 H1221.75 V458 Z M1221.75 458 V440.20 H1227.62 V458 Z M1227.62 458 V431.30 H1233.50 V458 Z M1233.50 458 V437.20 H1239.38 V458 Z M1239.38 458 V440.20 H1245.25 V458 Z M1245.25 458 V432.20 H1251.12 V458 Z M1251.12 458 V444.20 H1257.00 V458 Z M1257.00 458 V428.30 H1262.88 V458 Z M1262.88 458 V444.20 H1268.75 V458 Z M1268.75 458 V428.30 H1274.62 V458 Z M1274.62 458 V450.20 H1280.50 V458 Z M1280.50 458 V428.30 H1286.38 V458 Z M1286.38 458 V448.20 H1292.25 V458 Z M1292.25 458 V428.30 H1298.12 V458 Z M1298.12 458 V442.20 H1304.00 V458 Z M1304.00 458 V428.30 H1309.88 V458 Z M1309.88 458 V443.20 H1315.75 V458 Z M1315.75 458 V434.20 H1321.62 V458 Z M1321.62 458 V438.20 H1327.50 V458 Z M1327.50 458 V435.20 H1333.38 V458 Z M1333.38 458 V433.30 H1339.25 V458 Z M1339.25 458 V440.20 H1345.12 V458 Z M1345.12 458 V430.30 H1351.00 V458 Z M1351.00 458 V444.20 H1356.88 V458 Z M1356.88 458 V428.30 H1362.75 V458 Z M1362.75 458 V448.20 H1368.62 V458 Z M1368.62 458 V428.30 H1374.50 V458 Z M1374.50 458 V441.20 H1380.38 V458 Z M1380.38 458 V428.30 H1386.25 V458 Z M1386.25 458 V447.20 H1392.12 V458 Z M1392.12 458 V428.30 H1398.00 V458 Z M1398.00 458 V444.20 H1403.87 V458 Z M1403.87 458 V435.20 H1409.74 V458 Z M1409.74 458 V440.20 H1415.61 V458 Z M1415.61 458 V434.20 H1421.48 V458 Z M1421.48 458 V436.30 H1427.35 V458 Z M1427.35 458 V435.20 H1433.22 V458 Z M1433.22 458 V433.30 H1439.09 V458 Z M1439.09 458 V439.20 H1444.96 V458 Z M1444.96 458 V428.30 H1450.83 V458 Z M1450.83 458 V447.20 H1456.70 V458 Z M1456.70 458 V428.30 H1462.57 V458 Z M1462.57 458 V451.20 H1468.44 V458 Z M1468.44 458 V428.30 H1474.31 V458 Z M1474.31 458 V444.20 H1480.18 V458 Z M1480.18 458 V428.30 H1486.05 V458 Z M1486.05 458 V443.20 H1491.92 V458 Z M1491.92 458 V428.30 H1497.79 V458 Z M1497.79 458 V442.20 H1503.66 V458 Z M1503.66 458 V432.20 H1509.53 V458 Z M1509.53 458 V439.20 H1515.40 V458 Z M1515.40 458 V433.30 H1521.27 V458 Z M1521.27 458 V434.20 H1527.14 V458 Z M1527.14 458 V442.20 H1533.01 V458 Z M1533.01 458 V430.30 H1538.88 V458 Z M1538.88 458 V442.20 H1544.75 V458 Z M1544.75 458 V428.30 H1550.62 V458 Z M1550.62 458 V449.20 H1556.49 V458 Z M1556.49 458 V428.30 H1562.36 V458 Z M1562.36 458 V446.20 H1568.23 V458 Z M1568.23 458 V428.30 H1574.10 V458 Z M1574.10 458 V447.20 H1579.97 V458 Z M1579.97 458 V428.30 H1585.84 V458 Z M1585.84 458 V444.20 H1591.71 V458 Z M1591.71 458 V428.30 H1597.58 V458 Z M1597.58 458 V440.20 H1603.45 V458 Z M1603.45 458 V432.20 H1609.32 V458 Z M1609.32 458 V435.20 H1615.19 V458 Z M1615.19 458 V440.20 H1621.06 V458 Z M1621.06 458 V432.20 H1626.93 V458 Z M1626.93 458 V445.20 H1632.80 V458 Z M1632.80 458 V428.30 H1638.67 V458 Z M1638.67 458 V444.20 H1644.54 V458 Z M1644.54 458 V428.30 H1650.41 V458 Z M1650.41 458 V444.20 H1656.28 V458 Z M1656.28 458 V428.30 H1659.00 V458 Z" fill="#adbfcc" shape-rendering="crispEdges"/><path d="M287.5 792.0 L287.5 761.6 L290.0 761.6 L290.0 763.0 L292.5 763.0 L292.5 776.5 L292.5 776.5 L297.6 776.5 L297.6 762.3 L300.6 762.3 L300.6 750.9 L303.1 750.9 L303.1 767.0 L305.1 767.0 L305.1 776.5 L305.0 776.6 L310.2 776.6 L310.2 762.8 L313.2 762.8 L313.2 749.5 L314.7 749.5 L314.7 776.5 L317.5 775.5 L323.2 775.5 L323.2 750.9 L326.2 750.9 L326.2 770.1 L328.2 770.1 L328.2 776.5 L329.9 777.2 L336.0 777.2 L336.0 749.5 L337.0 749.5 L337.0 776.5 L342.4 777.1 L347.2 777.1 L347.2 764.8 L350.2 764.8 L350.2 749.5 L351.7 749.5 L351.7 769.1 L354.7 769.1 L354.7 776.5 L354.9 775.4 L360.0 775.4 L360.0 757.6 L362.0 757.6 L362.0 749.5 L364.5 749.5 L364.5 770.5 L367.5 770.5 L367.5 776.5 L367.4 776.4 L372.0 776.4 L372.0 761.7 L374.0 761.7 L374.0 749.5 L375.0 749.5 L375.0 776.5 L379.9 777.1 L384.8 777.1 L384.8 749.5 L388.3 749.5 L388.3 776.5 L392.3 775.9 L397.3 775.9 L397.3 749.5 L400.3 749.5 L400.3 776.5 L404.8 777.1 L408.9 777.1 L408.9 764.7 L411.4 764.7 L411.4 749.5 L412.4 749.5 L412.4 776.5 L417.3 776.5 L422.5 776.5 L422.5 762.2 L425.5 762.2 L425.5 749.5 L427.0 749.5 L427.0 768.5 L429.0 768.5 L429.0 776.5 L429.8 775.7 L434.8 775.7 L434.8 758.9 L436.3 758.9 L436.3 750.9 L437.3 750.9 L437.3 767.8 L438.3 767.8 L438.3 776.5 L442.3 777.4 L446.8 777.4 L446.8 766.1 L449.3 766.1 L449.3 749.5 L452.3 749.5 L452.3 767.1 L455.3 767.1 L455.3 776.5 L454.7 777.4 L460.7 777.4 L460.7 766.4 L462.7 766.4 L462.7 749.5 L464.7 749.5 L464.7 767.1 L466.7 767.1 L466.7 776.5 L467.2 776.6 L471.3 776.6 L471.3 762.8 L473.3 762.8 L473.3 750.9 L475.3 750.9 L475.3 769.0 L478.3 769.0 L478.3 776.5 L479.7 776.9 L485.9 776.9 L485.9 764.1 L487.4 764.1 L487.4 749.5 L490.9 749.5 L490.9 776.5 L492.2 776.5 L492.4 776.5 L492.4 784.6 L493.4 784.6 L493.4 775.7 L496.7 775.7 L496.7 758.7 L499.7 758.7 L499.7 750.9 L501.2 750.9 L501.2 766.2 L503.2 766.2 L503.2 776.5 L504.7 776.0 L508.9 776.0 L508.9 760.1 L511.9 760.1 L511.9 749.5 L513.9 749.5 L513.9 776.5 L517.1 775.6 L522.6 775.6 L522.6 758.3 L524.6 758.3 L524.6 749.5 L527.6 749.5 L527.6 776.5 L529.6 776.5 L529.8 776.5 L529.8 784.6 L530.8 784.6 L530.8 777.0 L535.3 777.0 L535.3 764.4 L538.3 764.4 L538.3 749.5 L541.3 749.5 L541.3 776.5 L542.1 777.2 L547.1 777.2 L547.1 765.4 L548.6 765.4 L548.6 749.5 L549.6 749.5 L549.6 776.5 L554.6 776.2 L558.8 776.2 L558.8 760.8 L560.3 760.8 L560.3 750.9 L562.8 750.9 L562.8 769.6 L563.8 769.6 L563.8 776.5 L567.1 776.1 L571.1 776.1 L571.1 749.5 L573.6 749.5 L573.6 765.8 L574.6 765.8 L574.6 776.5 L579.5 775.4 L584.7 775.4 L584.7 757.6 L586.7 757.6 L586.7 749.5 L588.7 749.5 L588.7 776.5 L592.0 777.4 L596.1 777.4 L596.1 766.2 L597.6 766.2 L597.6 749.5 L599.6 749.5 L599.6 771.8 L600.6 771.8 L600.6 776.5 L604.5 776.5 L604.7 776.5 L604.7 784.6 L605.7 784.6 L605.7 777.6 L609.5 777.6 L609.5 749.5 L612.0 749.5 L612.0 768.3 L615.0 768.3 L615.0 776.5 L617.0 775.4 L621.2 775.4 L621.2 749.5 L624.7 749.5 L624.7 776.5 L629.5 776.6 L635.3 776.6 L635.3 762.7 L638.3 762.7 L638.3 750.9 L640.8 750.9 L640.8 766.3 L642.8 766.3 L642.8 776.5 L641.9 777.6 L646.0 777.6 L646.0 766.8 L649.0 766.8 L649.0 749.5 L650.0 749.5 L650.0 769.1 L652.0 769.1 L652.0 776.5 L654.4 776.9 L660.7 776.9 L660.7 764.2 L662.7 764.2 L662.7 750.9 L663.7 750.9 L663.7 767.1 L664.7 767.1 L664.7 776.5 L666.9 776.9 L673.2 776.9 L673.2 764.0 L675.7 764.0 L675.7 749.5 L678.2 749.5 L678.2 776.5 L679.4 777.1 L685.4 777.1 L685.4 765.0 L686.9 765.0 L686.9 749.5 L688.4 749.5 L688.4 767.1 L690.4 767.1 L690.4 776.5 L691.9 776.5 L692.1 776.5 L692.1 784.6 L693.1 784.6 L693.1 775.5 L696.7 775.5 L696.7 749.5 L700.2 749.5 L700.2 776.5 L704.3 776.2 L709.5 776.2 L709.5 761.1 L711.0 761.1 L711.0 749.5 L713.5 749.5 L713.5 770.2 L715.5 770.2 L715.5 776.5 L716.8 777.4 L722.9 777.4 L722.9 766.3 L725.9 766.3 L725.9 749.5 L728.4 749.5 L728.4 767.6 L729.4 767.6 L729.4 776.5 L729.3 776.9 L735.0 776.9 L735.0 764.1 L737.0 764.1 L737.0 750.9 L740.0 750.9 L740.0 765.8 L741.0 765.8 L741.0 776.5 L741.8 776.5 L742.0 776.5 L742.0 784.6 L743.0 784.6 L743.0 775.9 L746.9 775.9 L746.9 749.5 L748.9 749.5 L748.9 776.5 L754.3 775.5 L758.5 775.5 L758.5 758.0 L761.5 758.0 L761.5 749.5 L765.0 749.5 L765.0 767.0 L766.0 767.0 L766.0 776.5 L766.7 776.0 L771.2 776.0 L771.2 749.5 L773.7 749.5 L773.7 767.2 L776.7 767.2 L776.7 776.5 L779.2 775.4 L784.6 775.4 L784.6 757.6 L787.6 757.6 L787.6 749.5 L790.6 749.5 L790.6 768.4 L793.6 768.4 L793.6 776.5 L791.7 777.3 L798.0 777.3 L798.0 749.5 L800.5 749.5 L800.5 767.0 L802.5 767.0 L802.5 776.5 L804.2 775.8 L808.2 775.8 L808.2 759.5 L811.2 759.5 L811.2 749.5 L814.2 749.5 L814.2 768.8 L817.2 768.8 L817.2 776.5 L816.7 775.6 L821.2 775.6 L821.2 749.5 L822.7 749.5 L822.7 776.5 L829.1 776.8 L835.1 776.8 L835.1 763.8 L837.1 763.8 L837.1 749.5 L839.1 749.5 L839.1 776.5 L841.6 776.5 L841.8 776.5 L841.8 784.6 L842.8 784.6 L842.8 777.1 L846.7 777.1 L846.7 765.0 L848.7 765.0 L848.7 749.5 L851.2 749.5 L851.2 776.5 L854.1 775.4 L859.4 775.4 L859.4 757.6 L860.9 757.6 L860.9 750.9 L863.4 750.9 L863.4 776.5 L866.6 775.9 L872.9 775.9 L872.9 759.9 L875.4 759.9 L875.4 749.5 L878.4 749.5 L878.4 776.5 L879.1 775.7 L884.9 775.7 L884.9 759.1 L886.4 759.1 L886.4 750.9 L889.4 750.9 L889.4 767.4 L892.4 767.4 L892.4 776.5 L891.5 775.7 L897.9 775.7 L897.9 759.0 L900.9 759.0 L900.9 750.9 L902.4 750.9 L902.4 769.2 L903.4 769.2 L903.4 776.5 L904.0 777.6 L908.5 777.6 L908.5 767.0 L911.5 767.0 L911.5 749.5 L912.5 749.5 L912.5 765.9 L915.5 765.9 L915.5 776.5 L916.5 776.5 L916.7 776.5 L916.7 784.6 L917.7 784.6 L917.7 777.3 L921.8 777.3 L921.8 765.9 L924.3 765.9 L924.3 749.5 L927.3 749.5 L927.3 770.4 L930.3 770.4 L930.3 776.5 L929.0 777.1 L934.3 777.1 L934.3 764.7 L936.8 764.7 L936.8 749.5 L939.3 749.5 L939.3 766.6 L940.3 766.6 L940.3 776.5 L941.5 777.4 L947.5 777.4 L947.5 766.0 L950.0 766.0 L950.0 749.5 L953.0 749.5 L953.0 769.9 L954.0 769.9 L954.0 776.5 L953.9 777.3 L958.3 777.3 L958.3 749.5 L959.3 749.5 L959.3 776.5 L966.4 776.5 L971.3 776.5 L971.3 762.3 L974.3 762.3 L974.3 750.9 L976.8 750.9 L976.8 776.5 L978.9 775.7 L983.5 775.7 L983.5 758.7 L985.0 758.7 L985.0 749.5 L988.5 749.5 L988.5 768.2 L991.5 768.2 L991.5 776.5 L991.4 775.7 L996.7 775.7 L996.7 758.9 L998.2 758.9 L998.2 750.9 L1001.2 750.9 L1001.2 776.5 L1003.9 777.1 L1010.0 777.1 L1010.0 764.9 L1013.0 764.9 L1013.0 749.5 L1016.0 749.5 L1016.0 776.5 L1016.3 775.6 L1021.1 775.6 L1021.1 758.7 L1022.6 758.7 L1022.6 749.5 L1024.1 749.5 L1024.1 776.5 L1028.8 775.8 L1033.0 775.8 L1033.0 759.2 L1035.5 759.2 L1035.5 749.5 L1036.5 749.5 L1036.5 769.4 L1038.5 769.4 L1038.5 776.5 L1041.3 776.3 L1045.8 776.3 L1045.8 749.5 L1046.8 749.5 L1046.8 776.5 L1053.8 776.5 L1058.1 776.5 L1058.1 762.3 L1061.1 762.3 L1061.1 749.5 L1064.6 749.5 L1064.6 771.1 L1065.6 771.1 L1065.6 776.5 L1066.3 775.6 L1070.3 775.6 L1070.3 758.5 L1073.3 758.5 L1073.3 749.5 L1076.3 749.5 L1076.3 766.7 L1079.3 766.7 L1079.3 776.5 L1078.7 776.3 L1083.2 776.3 L1083.2 761.6 L1084.7 761.6 L1084.7 749.5 L1086.7 749.5 L1086.7 776.5 L1091.2 776.7 L1097.1 776.7 L1097.1 763.0 L1099.1 763.0 L1099.1 749.5 L1101.6 749.5 L1101.6 768.6 L1103.6 768.6 L1103.6 776.5 L1103.7 776.7 L1107.7 776.7 L1107.7 749.5 L1109.2 749.5 L1109.2 776.5 L1116.2 775.9 L1120.7 775.9 L1120.7 759.6 L1122.2 759.6 L1122.2 749.5 L1123.2 749.5 L1123.2 771.7 L1126.2 771.7 L1126.2 776.5 L1128.7 777.2 L1134.4 777.2 L1134.4 765.2 L1136.9 765.2 L1136.9 750.9 L1139.9 750.9 L1139.9 772.3 L1142.9 772.3 L1142.9 776.5 L1141.1 775.8 L1145.8 775.8 L1145.8 749.5 L1149.3 749.5 L1149.3 776.5 L1153.6 776.7 L1159.0 776.7 L1159.0 763.2 L1161.0 763.2 L1161.0 749.5 L1163.5 749.5 L1163.5 776.5 L1166.1 777.5 L1171.3 777.5 L1171.3 749.5 L1173.3 749.5 L1173.3 772.1 L1176.3 772.1 L1176.3 776.5 L1178.6 776.4 L1183.4 776.4 L1183.4 762.0 L1185.9 762.0 L1185.9 749.5 L1188.9 749.5 L1188.9 776.5 L1191.1 777.5 L1195.6 777.5 L1195.6 750.9 L1198.1 750.9 L1198.1 766.4 L1201.1 766.4 L1201.1 776.5 L1203.5 776.2 L1208.6 776.2 L1208.6 760.9 L1211.6 760.9 L1211.6 749.5 L1212.6 749.5 L1212.6 776.5 L1216.0 776.7 L1222.3 776.7 L1222.3 763.1 L1225.3 763.1 L1225.3 750.9 L1228.3 750.9 L1228.3 769.5 L1231.3 769.5 L1231.3 776.5 L1228.5 776.1 L1234.1 776.1 L1234.1 749.5 L1237.1 749.5 L1237.1 768.3 L1240.1 768.3 L1240.1 776.5 L1241.0 776.3 L1245.9 776.3 L1245.9 761.3 L1247.4 761.3 L1247.4 749.5 L1249.9 749.5 L1249.9 768.6 L1252.9 768.6 L1252.9 776.5 L1253.5 776.8 L1258.2 776.8 L1258.2 763.6 L1260.7 763.6 L1260.7 749.5 L1263.7 749.5 L1263.7 769.0 L1264.7 769.0 L1264.7 776.5 L1265.9 775.9 L1272.3 775.9 L1272.3 759.7 L1274.3 759.7 L1274.3 750.9 L1275.3 750.9 L1275.3 776.5 L1278.4 776.0 L1284.3 776.0 L1284.3 760.0 L1286.8 760.0 L1286.8 749.5 L1287.8 749.5 L1287.8 769.6 L1288.8 769.6 L1288.8 776.5 L1290.9 776.5 L1291.1 776.5 L1291.1 784.6 L1292.1 784.6 L1292.1 777.0 L1295.7 777.0 L1295.7 764.7 L1297.2 764.7 L1297.2 749.5 L1299.7 749.5 L1299.7 766.0 L1301.7 766.0 L1301.7 776.5 L1303.4 776.3 L1309.4 776.3 L1309.4 761.3 L1311.9 761.3 L1311.9 749.5 L1313.4 749.5 L1313.4 776.5 L1315.9 777.3 L1320.2 777.3 L1320.2 749.5 L1322.2 749.5 L1322.2 768.7 L1325.2 768.7 L1325.2 776.5 L1328.3 776.1 L1333.5 776.1 L1333.5 760.6 L1335.5 760.6 L1335.5 749.5 L1339.0 749.5 L1339.0 771.0 L1342.0 771.0 L1342.0 776.5 L1340.8 777.1 L1347.3 777.1 L1347.3 764.8 L1349.3 764.8 L1349.3 749.5 L1352.8 749.5 L1352.8 776.5 L1353.3 776.3 L1358.6 776.3 L1358.6 761.3 L1360.6 761.3 L1360.6 750.9 L1362.6 750.9 L1362.6 770.4 L1363.6 770.4 L1363.6 776.5 L1365.8 776.5 L1366.0 776.5 L1366.0 784.6 L1367.0 784.6 L1367.0 776.5 L1370.5 776.5 L1370.5 762.3 L1372.0 762.3 L1372.0 749.5 L1373.5 749.5 L1373.5 776.5 L1378.3 777.5 L1382.4 777.5 L1382.4 766.8 L1384.4 766.8 L1384.4 749.5 L1386.4 749.5 L1386.4 766.4 L1388.4 766.4 L1388.4 776.5 L1390.7 776.4 L1394.9 776.4 L1394.9 749.5 L1398.4 749.5 L1398.4 776.5 L1403.2 775.8 L1408.1 775.8 L1408.1 759.1 L1410.6 759.1 L1410.6 749.5 L1414.1 749.5 L1414.1 776.5 L1415.7 776.0 L1421.8 776.0 L1421.8 760.0 L1423.3 760.0 L1423.3 749.5 L1425.8 749.5 L1425.8 771.2 L1427.8 771.2 L1427.8 776.5 L1428.2 776.4 L1433.8 776.4 L1433.8 761.9 L1436.8 761.9 L1436.8 749.5 L1438.8 749.5 L1438.8 768.6 L1439.8 768.6 L1439.8 776.5 L1440.7 777.4 L1444.9 777.4 L1444.9 766.3 L1446.9 766.3 L1446.9 750.9 L1447.9 750.9 L1447.9 769.5 L1450.9 769.5 L1450.9 776.5 L1453.1 777.1 L1458.3 777.1 L1458.3 750.9 L1459.3 750.9 L1459.3 766.3 L1460.3 766.3 L1460.3 776.5 L1465.6 776.5 L1465.8 776.5 L1465.8 784.6 L1466.8 784.6 L1466.8 777.1 L1471.4 777.1 L1471.4 765.0 L1473.4 765.0 L1473.4 749.5 L1475.4 749.5 L1475.4 776.5 L1478.1 776.6 L1483.9 776.6 L1483.9 762.9 L1486.9 762.9 L1486.9 749.5 L1489.9 749.5 L1489.9 768.8 L1490.9 768.8 L1490.9 776.5 L1490.6 776.8 L1497.0 776.8 L1497.0 763.6 L1500.0 763.6 L1500.0 749.5 L1501.5 749.5 L1501.5 776.5 L1503.1 776.8 L1508.5 776.8 L1508.5 763.6 L1510.0 763.6 L1510.0 749.5 L1513.5 749.5 L1513.5 769.3 L1516.5 769.3 L1516.5 776.5 L1515.5 775.7 L1520.9 775.7 L1520.9 758.7 L1522.4 758.7 L1522.4 749.5 L1523.4 749.5 L1523.4 771.2 L1525.4 771.2 L1525.4 776.5 L1528.0 775.5 L1532.2 775.5 L1532.2 757.9 L1533.7 757.9 L1533.7 749.5 L1536.7 749.5 L1536.7 766.1 L1537.7 766.1 L1537.7 776.5 L1540.5 776.5 L1540.7 776.5 L1540.7 784.6 L1541.7 784.6 L1541.7 777.0 L1546.5 777.0 L1546.5 749.5 L1548.5 749.5 L1548.5 776.5 L1553.0 777.1 L1558.6 777.1 L1558.6 764.7 L1560.1 764.7 L1560.1 749.5 L1561.1 749.5 L1561.1 769.0 L1563.1 769.0 L1563.1 776.5 L1565.5 776.9 L1570.3 776.9 L1570.3 763.9 L1572.8 763.9 L1572.8 749.5 L1575.3 749.5 L1575.3 770.2 L1576.3 770.2 L1576.3 776.5 L1577.9 775.6 L1583.3 775.6 L1583.3 749.5 L1586.8 749.5 L1586.8 770.8 L1589.8 770.8 L1589.8 776.5 L1590.4 775.6 L1595.3 775.6 L1595.3 750.9 L1597.8 750.9 L1597.8 776.5 L1602.9 775.6 L1608.7 775.6 L1608.7 749.5 L1611.2 749.5 L1611.2 770.7 L1613.2 770.7 L1613.2 776.5 L1615.4 776.7 L1620.3 776.7 L1620.3 763.4 L1621.8 763.4 L1621.8 750.9 L1623.8 750.9 L1623.8 776.5 L1627.9 776.9 L1632.0 776.9 L1632.0 764.2 L1634.0 764.2 L1634.0 749.5 L1637.5 749.5 L1637.5 776.5 L1640.3 776.5 L1644.5 776.5 L1644.5 762.5 L1647.0 762.5 L1647.0 749.5 L1648.0 749.5 L1648.0 767.8 L1651.0 767.8 L1651.0 776.5 L1652.8 776.0 L1657.7 776.0 L1657.7 760.3 L1660.7 760.3 L1660.7 750.9 L1662.2 750.9 L1662.2 769.1 L1665.2 769.1 L1665.2 776.5 L1659.0 776.5 L1659.0 792.0" fill="#b3e3fa" stroke="#7ad0f6" stroke-width="1"/><path d="M287.5 845.5 L287.5 834.0 L290.0 834.0 L290.0 835.0 L292.5 835.0 L292.5 844.5 L292.5 844.5 L297.6 844.5 L297.6 834.5 L300.6 834.5 L300.6 826.5 L303.1 826.5 L303.1 837.8 L305.1 837.8 L305.1 844.5 L305.0 844.5 L310.2 844.5 L310.2 834.9 L313.2 834.9 L313.2 825.5 L314.7 825.5 L314.7 844.5 L317.5 844.5 L323.2 844.5 L323.2 826.5 L326.2 826.5 L326.2 840.0 L328.2 840.0 L328.2 844.5 L329.9 844.5 L336.0 844.5 L336.0 825.5 L337.0 825.5 L337.0 844.5 L342.4 844.5 L347.2 844.5 L347.2 836.3 L350.2 836.3 L350.2 825.5 L351.7 825.5 L351.7 839.3 L354.7 839.3 L354.7 844.5 L354.9 844.5 L360.0 844.5 L360.0 831.2 L362.0 831.2 L362.0 825.5 L364.5 825.5 L364.5 840.3 L367.5 840.3 L367.5 844.5 L367.4 844.5 L372.0 844.5 L372.0 834.1 L374.0 834.1 L374.0 825.5 L375.0 825.5 L375.0 844.5 L379.9 844.5 L384.8 844.5 L384.8 825.5 L388.3 825.5 L388.3 844.5 L392.3 844.5 L397.3 844.5 L397.3 825.5 L400.3 825.5 L400.3 844.5 L404.8 844.5 L408.9 844.5 L408.9 836.2 L411.4 836.2 L411.4 825.5 L412.4 825.5 L412.4 844.5 L417.3 844.5 L422.5 844.5 L422.5 834.5 L425.5 834.5 L425.5 825.5 L427.0 825.5 L427.0 838.9 L429.0 838.9 L429.0 844.5 L429.8 844.5 L434.8 844.5 L434.8 832.1 L436.3 832.1 L436.3 826.5 L437.3 826.5 L437.3 838.3 L438.3 838.3 L438.3 844.5 L442.3 844.5 L446.8 844.5 L446.8 837.2 L449.3 837.2 L449.3 825.5 L452.3 825.5 L452.3 837.9 L455.3 837.9 L455.3 844.5 L454.7 844.5 L460.7 844.5 L460.7 837.4 L462.7 837.4 L462.7 825.5 L464.7 825.5 L464.7 837.9 L466.7 837.9 L466.7 844.5 L467.2 844.5 L471.3 844.5 L471.3 834.8 L473.3 834.8 L473.3 826.5 L475.3 826.5 L475.3 839.2 L478.3 839.2 L478.3 844.5 L479.7 844.5 L485.9 844.5 L485.9 835.8 L487.4 835.8 L487.4 825.5 L490.9 825.5 L490.9 844.5 L492.2 844.5 L496.7 844.5 L496.7 832.0 L499.7 832.0 L499.7 826.5 L501.2 826.5 L501.2 837.3 L503.2 837.3 L503.2 844.5 L504.7 844.5 L508.9 844.5 L508.9 832.9 L511.9 832.9 L511.9 825.5 L513.9 825.5 L513.9 844.5 L517.1 844.5 L522.6 844.5 L522.6 831.7 L524.6 831.7 L524.6 825.5 L527.6 825.5 L527.6 844.5 L529.6 844.5 L535.3 844.5 L535.3 836.0 L538.3 836.0 L538.3 825.5 L541.3 825.5 L541.3 844.5 L542.1 844.5 L547.1 844.5 L547.1 836.7 L548.6 836.7 L548.6 825.5 L549.6 825.5 L549.6 844.5 L554.6 844.5 L558.8 844.5 L558.8 833.5 L560.3 833.5 L560.3 826.5 L562.8 826.5 L562.8 839.7 L563.8 839.7 L563.8 844.5 L567.1 844.5 L571.1 844.5 L571.1 825.5 L573.6 825.5 L573.6 837.0 L574.6 837.0 L574.6 844.5 L579.5 844.5 L584.7 844.5 L584.7 831.2 L586.7 831.2 L586.7 825.5 L588.7 825.5 L588.7 844.5 L592.0 844.5 L596.1 844.5 L596.1 837.3 L597.6 837.3 L597.6 825.5 L599.6 825.5 L599.6 841.2 L600.6 841.2 L600.6 844.5 L604.5 844.5 L609.5 844.5 L609.5 825.5 L612.0 825.5 L612.0 838.7 L615.0 838.7 L615.0 844.5 L617.0 844.5 L621.2 844.5 L621.2 825.5 L624.7 825.5 L624.7 844.5 L629.5 844.5 L635.3 844.5 L635.3 834.8 L638.3 834.8 L638.3 826.5 L640.8 826.5 L640.8 837.3 L642.8 837.3 L642.8 844.5 L641.9 844.5 L646.0 844.5 L646.0 837.7 L649.0 837.7 L649.0 825.5 L650.0 825.5 L650.0 839.3 L652.0 839.3 L652.0 844.5 L654.4 844.5 L660.7 844.5 L660.7 835.8 L662.7 835.8 L662.7 826.5 L663.7 826.5 L663.7 837.9 L664.7 837.9 L664.7 844.5 L666.9 844.5 L673.2 844.5 L673.2 835.7 L675.7 835.7 L675.7 825.5 L678.2 825.5 L678.2 844.5 L679.4 844.5 L685.4 844.5 L685.4 836.4 L686.9 836.4 L686.9 825.5 L688.4 825.5 L688.4 837.9 L690.4 837.9 L690.4 844.5 L691.9 844.5 L696.7 844.5 L696.7 825.5 L700.2 825.5 L700.2 844.5 L704.3 844.5 L709.5 844.5 L709.5 833.7 L711.0 833.7 L711.0 825.5 L713.5 825.5 L713.5 840.1 L715.5 840.1 L715.5 844.5 L716.8 844.5 L722.9 844.5 L722.9 837.4 L725.9 837.4 L725.9 825.5 L728.4 825.5 L728.4 838.2 L729.4 838.2 L729.4 844.5 L729.3 844.5 L735.0 844.5 L735.0 835.8 L737.0 835.8 L737.0 826.5 L740.0 826.5 L740.0 837.0 L741.0 837.0 L741.0 844.5 L741.8 844.5 L746.9 844.5 L746.9 825.5 L748.9 825.5 L748.9 844.5 L754.3 844.5 L758.5 844.5 L758.5 831.5 L761.5 831.5 L761.5 825.5 L765.0 825.5 L765.0 837.8 L766.0 837.8 L766.0 844.5 L766.7 844.5 L771.2 844.5 L771.2 825.5 L773.7 825.5 L773.7 838.0 L776.7 838.0 L776.7 844.5 L779.2 844.5 L784.6 844.5 L784.6 831.2 L787.6 831.2 L787.6 825.5 L790.6 825.5 L790.6 838.8 L793.6 838.8 L793.6 844.5 L791.7 844.5 L798.0 844.5 L798.0 825.5 L800.5 825.5 L800.5 837.8 L802.5 837.8 L802.5 844.5 L804.2 844.5 L808.2 844.5 L808.2 832.6 L811.2 832.6 L811.2 825.5 L814.2 825.5 L814.2 839.1 L817.2 839.1 L817.2 844.5 L816.7 844.5 L821.2 844.5 L821.2 825.5 L822.7 825.5 L822.7 844.5 L829.1 844.5 L835.1 844.5 L835.1 835.5 L837.1 835.5 L837.1 825.5 L839.1 825.5 L839.1 844.5 L841.6 844.5 L846.7 844.5 L846.7 836.4 L848.7 836.4 L848.7 825.5 L851.2 825.5 L851.2 844.5 L854.1 844.5 L859.4 844.5 L859.4 831.2 L860.9 831.2 L860.9 826.5 L863.4 826.5 L863.4 844.5 L866.6 844.5 L872.9 844.5 L872.9 832.8 L875.4 832.8 L875.4 825.5 L878.4 825.5 L878.4 844.5 L879.1 844.5 L884.9 844.5 L884.9 832.2 L886.4 832.2 L886.4 826.5 L889.4 826.5 L889.4 838.1 L892.4 838.1 L892.4 844.5 L891.5 844.5 L897.9 844.5 L897.9 832.2 L900.9 832.2 L900.9 826.5 L902.4 826.5 L902.4 839.4 L903.4 839.4 L903.4 844.5 L904.0 844.5 L908.5 844.5 L908.5 837.8 L911.5 837.8 L911.5 825.5 L912.5 825.5 L912.5 837.0 L915.5 837.0 L915.5 844.5 L916.5 844.5 L921.8 844.5 L921.8 837.0 L924.3 837.0 L924.3 825.5 L927.3 825.5 L927.3 840.2 L930.3 840.2 L930.3 844.5 L929.0 844.5 L934.3 844.5 L934.3 836.2 L936.8 836.2 L936.8 825.5 L939.3 825.5 L939.3 837.5 L940.3 837.5 L940.3 844.5 L941.5 844.5 L947.5 844.5 L947.5 837.1 L950.0 837.1 L950.0 825.5 L953.0 825.5 L953.0 839.8 L954.0 839.8 L954.0 844.5 L953.9 844.5 L958.3 844.5 L958.3 825.5 L959.3 825.5 L959.3 844.5 L966.4 844.5 L971.3 844.5 L971.3 834.5 L974.3 834.5 L974.3 826.5 L976.8 826.5 L976.8 844.5 L978.9 844.5 L983.5 844.5 L983.5 832.0 L985.0 832.0 L985.0 825.5 L988.5 825.5 L988.5 838.7 L991.5 838.7 L991.5 844.5 L991.4 844.5 L996.7 844.5 L996.7 832.1 L998.2 832.1 L998.2 826.5 L1001.2 826.5 L1001.2 844.5 L1003.9 844.5 L1010.0 844.5 L1010.0 836.3 L1013.0 836.3 L1013.0 825.5 L1016.0 825.5 L1016.0 844.5 L1016.3 844.5 L1021.1 844.5 L1021.1 831.9 L1022.6 831.9 L1022.6 825.5 L1024.1 825.5 L1024.1 844.5 L1028.8 844.5 L1033.0 844.5 L1033.0 832.3 L1035.5 832.3 L1035.5 825.5 L1036.5 825.5 L1036.5 839.5 L1038.5 839.5 L1038.5 844.5 L1041.3 844.5 L1045.8 844.5 L1045.8 825.5 L1046.8 825.5 L1046.8 844.5 L1053.8 844.5 L1058.1 844.5 L1058.1 834.5 L1061.1 834.5 L1061.1 825.5 L1064.6 825.5 L1064.6 840.7 L1065.6 840.7 L1065.6 844.5 L1066.3 844.5 L1070.3 844.5 L1070.3 831.8 L1073.3 831.8 L1073.3 825.5 L1076.3 825.5 L1076.3 837.6 L1079.3 837.6 L1079.3 844.5 L1078.7 844.5 L1083.2 844.5 L1083.2 834.0 L1084.7 834.0 L1084.7 825.5 L1086.7 825.5 L1086.7 844.5 L1091.2 844.5 L1097.1 844.5 L1097.1 835.0 L1099.1 835.0 L1099.1 825.5 L1101.6 825.5 L1101.6 838.9 L1103.6 838.9 L1103.6 844.5 L1103.7 844.5 L1107.7 844.5 L1107.7 825.5 L1109.2 825.5 L1109.2 844.5 L1116.2 844.5 L1120.7 844.5 L1120.7 832.6 L1122.2 832.6 L1122.2 825.5 L1123.2 825.5 L1123.2 841.1 L1126.2 841.1 L1126.2 844.5 L1128.7 844.5 L1134.4 844.5 L1134.4 836.6 L1136.9 836.6 L1136.9 826.5 L1139.9 826.5 L1139.9 841.6 L1142.9 841.6 L1142.9 844.5 L1141.1 844.5 L1145.8 844.5 L1145.8 825.5 L1149.3 825.5 L1149.3 844.5 L1153.6 844.5 L1159.0 844.5 L1159.0 835.2 L1161.0 835.2 L1161.0 825.5 L1163.5 825.5 L1163.5 844.5 L1166.1 844.5 L1171.3 844.5 L1171.3 825.5 L1173.3 825.5 L1173.3 841.4 L1176.3 841.4 L1176.3 844.5 L1178.6 844.5 L1183.4 844.5 L1183.4 834.3 L1185.9 834.3 L1185.9 825.5 L1188.9 825.5 L1188.9 844.5 L1191.1 844.5 L1195.6 844.5 L1195.6 826.5 L1198.1 826.5 L1198.1 837.4 L1201.1 837.4 L1201.1 844.5 L1203.5 844.5 L1208.6 844.5 L1208.6 833.5 L1211.6 833.5 L1211.6 825.5 L1212.6 825.5 L1212.6 844.5 L1216.0 844.5 L1222.3 844.5 L1222.3 835.1 L1225.3 835.1 L1225.3 826.5 L1228.3 826.5 L1228.3 839.6 L1231.3 839.6 L1231.3 844.5 L1228.5 844.5 L1234.1 844.5 L1234.1 825.5 L1237.1 825.5 L1237.1 838.7 L1240.1 838.7 L1240.1 844.5 L1241.0 844.5 L1245.9 844.5 L1245.9 833.8 L1247.4 833.8 L1247.4 825.5 L1249.9 825.5 L1249.9 838.9 L1252.9 838.9 L1252.9 844.5 L1253.5 844.5 L1258.2 844.5 L1258.2 835.4 L1260.7 835.4 L1260.7 825.5 L1263.7 825.5 L1263.7 839.2 L1264.7 839.2 L1264.7 844.5 L1265.9 844.5 L1272.3 844.5 L1272.3 832.7 L1274.3 832.7 L1274.3 826.5 L1275.3 826.5 L1275.3 844.5 L1278.4 844.5 L1284.3 844.5 L1284.3 832.9 L1286.8 832.9 L1286.8 825.5 L1287.8 825.5 L1287.8 839.7 L1288.8 839.7 L1288.8 844.5 L1290.9 844.5 L1295.7 844.5 L1295.7 836.2 L1297.2 836.2 L1297.2 825.5 L1299.7 825.5 L1299.7 837.1 L1301.7 837.1 L1301.7 844.5 L1303.4 844.5 L1309.4 844.5 L1309.4 833.8 L1311.9 833.8 L1311.9 825.5 L1313.4 825.5 L1313.4 844.5 L1315.9 844.5 L1320.2 844.5 L1320.2 825.5 L1322.2 825.5 L1322.2 839.0 L1325.2 839.0 L1325.2 844.5 L1328.3 844.5 L1333.5 844.5 L1333.5 833.3 L1335.5 833.3 L1335.5 825.5 L1339.0 825.5 L1339.0 840.6 L1342.0 840.6 L1342.0 844.5 L1340.8 844.5 L1347.3 844.5 L1347.3 836.3 L1349.3 836.3 L1349.3 825.5 L1352.8 825.5 L1352.8 844.5 L1353.3 844.5 L1358.6 844.5 L1358.6 833.8 L1360.6 833.8 L1360.6 826.5 L1362.6 826.5 L1362.6 840.2 L1363.6 840.2 L1363.6 844.5 L1365.8 844.5 L1370.5 844.5 L1370.5 834.5 L1372.0 834.5 L1372.0 825.5 L1373.5 825.5 L1373.5 844.5 L1378.3 844.5 L1382.4 844.5 L1382.4 837.7 L1384.4 837.7 L1384.4 825.5 L1386.4 825.5 L1386.4 837.4 L1388.4 837.4 L1388.4 844.5 L1390.7 844.5 L1394.9 844.5 L1394.9 825.5 L1398.4 825.5 L1398.4 844.5 L1403.2 844.5 L1408.1 844.5 L1408.1 832.3 L1410.6 832.3 L1410.6 825.5 L1414.1 825.5 L1414.1 844.5 L1415.7 844.5 L1421.8 844.5 L1421.8 832.9 L1423.3 832.9 L1423.3 825.5 L1425.8 825.5 L1425.8 840.7 L1427.8 840.7 L1427.8 844.5 L1428.2 844.5 L1433.8 844.5 L1433.8 834.2 L1436.8 834.2 L1436.8 825.5 L1438.8 825.5 L1438.8 838.9 L1439.8 838.9 L1439.8 844.5 L1440.7 844.5 L1444.9 844.5 L1444.9 837.3 L1446.9 837.3 L1446.9 826.5 L1447.9 826.5 L1447.9 839.6 L1450.9 839.6 L1450.9 844.5 L1453.1 844.5 L1458.3 844.5 L1458.3 826.5 L1459.3 826.5 L1459.3 837.3 L1460.3 837.3 L1460.3 844.5 L1465.6 844.5 L1471.4 844.5 L1471.4 836.4 L1473.4 836.4 L1473.4 825.5 L1475.4 825.5 L1475.4 844.5 L1478.1 844.5 L1483.9 844.5 L1483.9 834.9 L1486.9 834.9 L1486.9 825.5 L1489.9 825.5 L1489.9 839.1 L1490.9 839.1 L1490.9 844.5 L1490.6 844.5 L1497.0 844.5 L1497.0 835.4 L1500.0 835.4 L1500.0 825.5 L1501.5 825.5 L1501.5 844.5 L1503.1 844.5 L1508.5 844.5 L1508.5 835.4 L1510.0 835.4 L1510.0 825.5 L1513.5 825.5 L1513.5 839.5 L1516.5 839.5 L1516.5 844.5 L1515.5 844.5 L1520.9 844.5 L1520.9 832.0 L1522.4 832.0 L1522.4 825.5 L1523.4 825.5 L1523.4 840.8 L1525.4 840.8 L1525.4 844.5 L1528.0 844.5 L1532.2 844.5 L1532.2 831.4 L1533.7 831.4 L1533.7 825.5 L1536.7 825.5 L1536.7 837.2 L1537.7 837.2 L1537.7 844.5 L1540.5 844.5 L1546.5 844.5 L1546.5 825.5 L1548.5 825.5 L1548.5 844.5 L1553.0 844.5 L1558.6 844.5 L1558.6 836.2 L1560.1 836.2 L1560.1 825.5 L1561.1 825.5 L1561.1 839.2 L1563.1 839.2 L1563.1 844.5 L1565.5 844.5 L1570.3 844.5 L1570.3 835.6 L1572.8 835.6 L1572.8 825.5 L1575.3 825.5 L1575.3 840.1 L1576.3 840.1 L1576.3 844.5 L1577.9 844.5 L1583.3 844.5 L1583.3 825.5 L1586.8 825.5 L1586.8 840.5 L1589.8 840.5 L1589.8 844.5 L1590.4 844.5 L1595.3 844.5 L1595.3 826.5 L1597.8 826.5 L1597.8 844.5 L1602.9 844.5 L1608.7 844.5 L1608.7 825.5 L1611.2 825.5 L1611.2 840.4 L1613.2 840.4 L1613.2 844.5 L1615.4 844.5 L1620.3 844.5 L1620.3 835.3 L1621.8 835.3 L1621.8 826.5 L1623.8 826.5 L1623.8 844.5 L1627.9 844.5 L1632.0 844.5 L1632.0 835.8 L1634.0 835.8 L1634.0 825.5 L1637.5 825.5 L1637.5 844.5 L1640.3 844.5 L1644.5 844.5 L1644.5 834.7 L1647.0 834.7 L1647.0 825.5 L1648.0 825.5 L1648.0 838.4 L1651.0 838.4 L1651.0 844.5 L1652.8 844.5 L1657.7 844.5 L1657.7 833.1 L1660.7 833.1 L1660.7 826.5 L1662.2 826.5 L1662.2 839.3 L1665.2 839.3 L1665.2 844.5 L1659.0 844.5 L1659.0 845.5" fill="#b3e3fa" stroke="#7ad0f6" stroke-width="1"/><path d="M287.5 899 V897.5 H1659" fill="none" stroke="#74cdf5" stroke-width="1"/><path d="M287.5 952 V950.5 H1659" fill="none" stroke="#74cdf5" stroke-width="1"/><rect x="369.5" y="959.5" width="3" height="14" fill="#b3e3fa" stroke="#74cdf5" stroke-width="1"/><rect x="483.5" y="959.5" width="3" height="14" fill="#b3e3fa" stroke="#74cdf5" stroke-width="1"/><rect x="595.5" y="959.5" width="3" height="14" fill="#b3e3fa" stroke="#74cdf5" stroke-width="1"/><rect x="708.5" y="959.5" width="3" height="14" fill="#b3e3fa" stroke="#74cdf5" stroke-width="1"/><rect x="821.5" y="959.5" width="3" height="14" fill="#b3e3fa" stroke="#74cdf5" stroke-width="1"/><rect x="934.5" y="959.5" width="3" height="14" fill="#b3e3fa" stroke="#74cdf5" stroke-width="1"/><rect x="1048.5" y="959.5" width="3" height="14" fill="#b3e3fa" stroke="#74cdf5" stroke-width="1"/><rect x="1160.5" y="959.5" width="3" height="14" fill="#b3e3fa" stroke="#74cdf5" stroke-width="1"/><rect x="1273.5" y="959.5" width="3" height="14" fill="#b3e3fa" stroke="#74cdf5" stroke-width="1"/><rect x="1386.5" y="959.5" width="3" height="14" fill="#b3e3fa" stroke="#74cdf5" stroke-width="1"/><rect x="1498.5" y="959.5" width="3" height="14" fill="#b3e3fa" stroke="#74cdf5" stroke-width="1"/><rect x="1611.5" y="959.5" width="3" height="14" fill="#b3e3fa" stroke="#74cdf5" stroke-width="1"/></g></svg><div style="position:absolute;left:0px;top:971px;width:1676px;height:17px;background:#f0f0f0;"></div><div style="position:absolute;left:17px;top:972px;width:959px;height:15px;background:#cdcdcd;"></div><svg style="position:absolute;left:3px;top:975px" width="9" height="10" viewBox="0 0 9 10"><path d="M6.5 1 L2.5 5 L6.5 9" stroke="#606060" stroke-width="1.8" fill="none"/></svg><svg style="position:absolute;left:1646px;top:975px" width="9" height="10" viewBox="0 0 9 10"><path d="M2.5 1 L6.5 5 L2.5 9" stroke="#606060" stroke-width="1.8" fill="none"/></svg><div style="position:absolute;left:0px;top:988px;width:1676px;height:1px;background:#a0a0a0;"></div><div style="position:absolute;left:0px;top:989px;width:1676px;height:1px;background:#ffffff;"></div><div style="position:absolute;left:0px;top:990px;width:1676px;height:26px;background:#f0f0f0;"></div><div class="t" style="left:5px;top:996.78px;font-size:12.4px;color:#000;font-weight:700;transform:scaleX(0.925);transform-origin:0 0;">Selection</div><svg style="position:absolute;left:1652px;top:997px" width="14" height="10" viewBox="0 0 14 10"><path d="M1.5 8 L7 2.5 L12.5 8" stroke="#000" stroke-width="2" fill="none"/></svg><div style="position:absolute;left:0px;top:1016px;width:1676px;height:1px;background:#a0a0a0;"></div><div style="position:absolute;left:0px;top:1017px;width:1676px;height:1px;background:#ffffff;"></div><div style="position:absolute;left:0px;top:1018px;width:1676px;height:21px;background:#f0f0f0;"></div><div class="t" style="left:3px;top:1021.78px;font-size:12.4px;color:#000;font-weight:400;transform:scaleX(0.925);transform-origin:0 0;">Server:</div><div style="position:absolute;left:41px;top:1021px;width:24px;height:15px;background:#cccccc;"></div><div class="t" style="left:49px;top:1021.78px;font-size:12.4px;color:#000;font-weight:400;transform:scaleX(0.925);transform-origin:0 0;">5MB of 18MB</div><div style="position:absolute;left:125px;top:1021px;width:1px;height:15px;background:#a0a0a0;"></div></body></html>
